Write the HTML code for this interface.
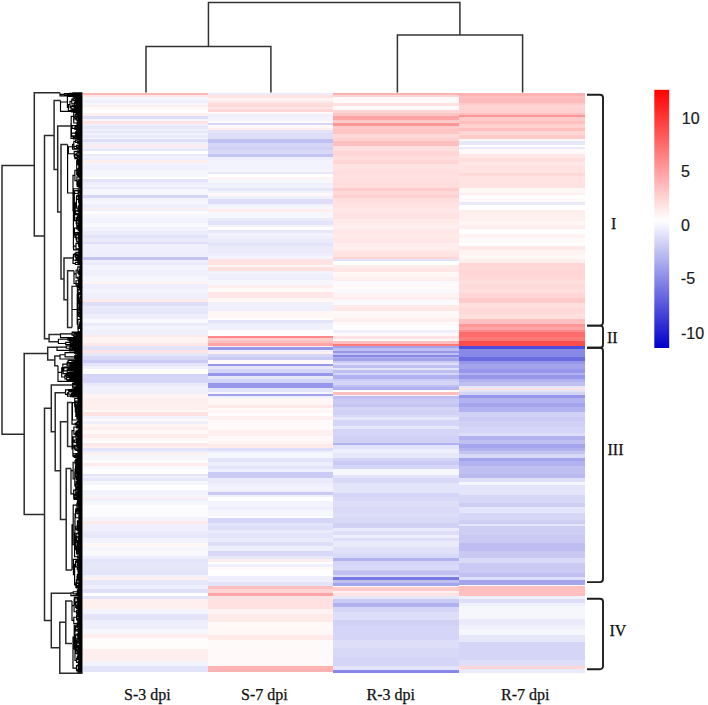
<!DOCTYPE html>
<html><head><meta charset="utf-8"><style>
html,body{margin:0;padding:0;background:#fff;}
body{width:708px;height:705px;overflow:hidden;position:relative;}
svg{position:absolute;left:0;top:0;}
.t{font-family:"Liberation Serif",serif;font-size:16px;fill:#111;stroke:#111;stroke-width:0.25px;}
.s{font-family:"Liberation Sans",sans-serif;font-size:16px;fill:#1a1a1a;stroke:#1a1a1a;stroke-width:0.2px;}
</style></head><body>
<svg width="708" height="705" viewBox="0 0 708 705">
<defs><linearGradient id="cb" x1="0" y1="0" x2="0" y2="1">
<stop offset="0" stop-color="#ff0000"/>
<stop offset="0.505" stop-color="#ffffff"/>
<stop offset="1" stop-color="#0000cc"/>
</linearGradient></defs>
<g shape-rendering="crispEdges">
<rect x="83" y="92.50" width="125.10" height="2.90" fill="#ffb7b7"/>
<rect x="83" y="95.10" width="125.10" height="2.60" fill="#ffe7e7"/>
<rect x="83" y="97.40" width="125.10" height="3.10" fill="#f6f6fd"/>
<rect x="83" y="100.20" width="125.10" height="3.10" fill="#f0f0fc"/>
<rect x="83" y="103.00" width="125.10" height="2.10" fill="#f6f6fd"/>
<rect x="83" y="104.80" width="125.10" height="2.50" fill="#ffeeee"/>
<rect x="83" y="107.00" width="125.10" height="3.20" fill="#fff9f9"/>
<rect x="83" y="109.90" width="125.10" height="3.10" fill="#ffffff"/>
<rect x="83" y="112.70" width="125.10" height="3.10" fill="#fff0f0"/>
<rect x="83" y="115.50" width="125.10" height="3.70" fill="#dedef8"/>
<rect x="83" y="118.90" width="125.10" height="2.00" fill="#f6f6fd"/>
<rect x="83" y="120.60" width="125.10" height="3.70" fill="#ffe3e3"/>
<rect x="83" y="124.00" width="125.10" height="2.60" fill="#eeeefc"/>
<rect x="83" y="126.30" width="125.10" height="3.20" fill="#e7e7fa"/>
<rect x="83" y="129.20" width="125.10" height="2.00" fill="#f0f0fc"/>
<rect x="83" y="130.90" width="125.10" height="2.40" fill="#e7e7fa"/>
<rect x="83" y="133.00" width="125.10" height="2.70" fill="#f3f3fd"/>
<rect x="83" y="135.40" width="125.10" height="2.60" fill="#eaeafb"/>
<rect x="83" y="137.70" width="125.10" height="2.00" fill="#f6f6fd"/>
<rect x="83" y="139.40" width="125.10" height="3.10" fill="#dedef8"/>
<rect x="83" y="142.20" width="125.10" height="2.60" fill="#f0f0fc"/>
<rect x="83" y="144.50" width="125.10" height="2.60" fill="#ffeaea"/>
<rect x="83" y="146.80" width="125.10" height="2.50" fill="#f0f0fc"/>
<rect x="83" y="149.00" width="125.10" height="2.60" fill="#e7e7fa"/>
<rect x="83" y="151.30" width="125.10" height="2.60" fill="#ffffff"/>
<rect x="83" y="153.60" width="125.10" height="2.50" fill="#eaeafb"/>
<rect x="83" y="155.80" width="125.10" height="2.60" fill="#f3f3fd"/>
<rect x="83" y="158.10" width="125.10" height="2.60" fill="#eeeefc"/>
<rect x="83" y="160.40" width="125.10" height="2.50" fill="#ffeeee"/>
<rect x="83" y="162.60" width="125.10" height="2.70" fill="#f3f3fd"/>
<rect x="83" y="165.00" width="125.10" height="5.30" fill="#f0f0fc"/>
<rect x="83" y="170.00" width="125.10" height="7.10" fill="#f6f6fd"/>
<rect x="83" y="176.80" width="125.10" height="2.60" fill="#ffffff"/>
<rect x="83" y="179.10" width="125.10" height="3.10" fill="#e3e3f9"/>
<rect x="83" y="181.90" width="125.10" height="3.20" fill="#eeeefc"/>
<rect x="83" y="184.80" width="125.10" height="2.50" fill="#f3f3fd"/>
<rect x="83" y="187.00" width="125.10" height="2.00" fill="#eaeafb"/>
<rect x="83" y="188.70" width="125.10" height="6.60" fill="#f6f6fd"/>
<rect x="83" y="195.00" width="125.10" height="3.10" fill="#d5d5f7"/>
<rect x="83" y="197.80" width="125.10" height="3.10" fill="#f3f3fd"/>
<rect x="83" y="200.60" width="125.10" height="3.70" fill="#f6f6fd"/>
<rect x="83" y="204.00" width="125.10" height="3.80" fill="#eeeefc"/>
<rect x="83" y="207.50" width="125.10" height="2.00" fill="#ffeeee"/>
<rect x="83" y="209.20" width="125.10" height="2.50" fill="#f0f0fc"/>
<rect x="83" y="211.40" width="125.10" height="3.20" fill="#ffffff"/>
<rect x="83" y="214.30" width="125.10" height="3.70" fill="#f6f6fd"/>
<rect x="83" y="217.70" width="125.10" height="5.90" fill="#f3f3fd"/>
<rect x="83" y="223.30" width="125.10" height="3.80" fill="#f9f9fe"/>
<rect x="83" y="226.80" width="125.10" height="4.80" fill="#f3f3fd"/>
<rect x="83" y="231.30" width="125.10" height="3.70" fill="#ececfb"/>
<rect x="83" y="234.70" width="125.10" height="3.70" fill="#e3e3f9"/>
<rect x="83" y="238.10" width="125.10" height="3.70" fill="#eaeafb"/>
<rect x="83" y="241.50" width="125.10" height="2.60" fill="#dedef8"/>
<rect x="83" y="243.80" width="125.10" height="6.50" fill="#f0f0fc"/>
<rect x="83" y="250.00" width="125.10" height="7.10" fill="#eeeefc"/>
<rect x="83" y="256.80" width="125.10" height="3.10" fill="#c4c4f3"/>
<rect x="83" y="259.60" width="125.10" height="3.20" fill="#eeeefc"/>
<rect x="83" y="262.50" width="125.10" height="2.60" fill="#eaeafb"/>
<rect x="83" y="264.80" width="125.10" height="5.90" fill="#f3f3fd"/>
<rect x="83" y="270.40" width="125.10" height="6.00" fill="#f0f0fc"/>
<rect x="83" y="276.10" width="125.10" height="6.00" fill="#f6f6fd"/>
<rect x="83" y="281.80" width="125.10" height="2.50" fill="#fff3f3"/>
<rect x="83" y="284.00" width="125.10" height="4.90" fill="#eeeefc"/>
<rect x="83" y="288.60" width="125.10" height="4.80" fill="#f3f3fd"/>
<rect x="83" y="293.10" width="125.10" height="6.00" fill="#f0f0fc"/>
<rect x="83" y="298.80" width="125.10" height="3.10" fill="#ffeaea"/>
<rect x="83" y="301.60" width="125.10" height="4.30" fill="#dedef8"/>
<rect x="83" y="305.60" width="125.10" height="3.70" fill="#eaeafb"/>
<rect x="83" y="309.00" width="125.10" height="4.90" fill="#e7e7fa"/>
<rect x="83" y="313.60" width="125.10" height="5.90" fill="#eeeefc"/>
<rect x="83" y="319.20" width="125.10" height="3.70" fill="#f9f9fe"/>
<rect x="83" y="322.60" width="125.10" height="3.70" fill="#eaeafb"/>
<rect x="83" y="326.00" width="125.10" height="4.30" fill="#f3f3fd"/>
<rect x="83" y="330.00" width="125.10" height="4.80" fill="#f0f0fc"/>
<rect x="83" y="334.50" width="125.10" height="2.60" fill="#ffeaea"/>
<rect x="83" y="336.80" width="125.10" height="6.00" fill="#fff3f3"/>
<rect x="83" y="342.50" width="125.10" height="3.80" fill="#ffe7e7"/>
<rect x="83" y="346.00" width="125.10" height="4.70" fill="#e3e3f9"/>
<rect x="83" y="350.40" width="125.10" height="2.60" fill="#ffe3e3"/>
<rect x="83" y="352.70" width="125.10" height="3.70" fill="#e7e7fa"/>
<rect x="83" y="356.10" width="125.10" height="3.70" fill="#d8d8f7"/>
<rect x="83" y="359.50" width="125.10" height="3.80" fill="#cacaf4"/>
<rect x="83" y="363.00" width="125.10" height="3.60" fill="#e3e3f9"/>
<rect x="83" y="366.30" width="125.10" height="2.60" fill="#f0f0fc"/>
<rect x="83" y="368.60" width="125.10" height="6.00" fill="#ffffff"/>
<rect x="83" y="374.30" width="125.10" height="9.30" fill="#d5d5f7"/>
<rect x="83" y="383.30" width="125.10" height="2.60" fill="#eaeafb"/>
<rect x="83" y="385.60" width="125.10" height="8.30" fill="#f0f0fc"/>
<rect x="83" y="393.60" width="125.10" height="4.70" fill="#fff3f3"/>
<rect x="83" y="398.00" width="125.10" height="4.90" fill="#ffeeee"/>
<rect x="83" y="402.60" width="125.10" height="7.70" fill="#fff0f0"/>
<rect x="83" y="410.00" width="125.10" height="2.00" fill="#fff9f9"/>
<rect x="83" y="411.70" width="125.10" height="4.30" fill="#ffe3e3"/>
<rect x="83" y="415.70" width="125.10" height="3.70" fill="#f3f3fd"/>
<rect x="83" y="419.10" width="125.10" height="2.60" fill="#fff9f9"/>
<rect x="83" y="421.40" width="125.10" height="2.50" fill="#f0f0fc"/>
<rect x="83" y="423.60" width="125.10" height="3.70" fill="#fff6f6"/>
<rect x="83" y="427.00" width="125.10" height="3.20" fill="#ffeeee"/>
<rect x="83" y="429.90" width="125.10" height="4.20" fill="#fff9f9"/>
<rect x="83" y="433.80" width="125.10" height="4.30" fill="#ffecec"/>
<rect x="83" y="437.80" width="125.10" height="3.10" fill="#fff6f6"/>
<rect x="83" y="440.60" width="125.10" height="2.60" fill="#ffffff"/>
<rect x="83" y="442.90" width="125.10" height="3.70" fill="#ffe7e7"/>
<rect x="83" y="446.30" width="125.10" height="2.00" fill="#fff0f0"/>
<rect x="83" y="448.00" width="125.10" height="3.20" fill="#e3e3f9"/>
<rect x="83" y="450.90" width="125.10" height="2.50" fill="#eeeefc"/>
<rect x="83" y="453.10" width="125.10" height="2.60" fill="#fff0f0"/>
<rect x="83" y="455.40" width="125.10" height="4.90" fill="#f6f6fd"/>
<rect x="83" y="460.00" width="125.10" height="3.60" fill="#ffffff"/>
<rect x="83" y="463.30" width="125.10" height="2.60" fill="#ffeaea"/>
<rect x="83" y="465.60" width="125.10" height="3.70" fill="#f9f9fe"/>
<rect x="83" y="469.00" width="125.10" height="4.90" fill="#ffffff"/>
<rect x="83" y="473.60" width="125.10" height="2.50" fill="#e3e3f9"/>
<rect x="83" y="475.80" width="125.10" height="2.60" fill="#f0f0fc"/>
<rect x="83" y="478.10" width="125.10" height="3.10" fill="#e7e7fa"/>
<rect x="83" y="480.90" width="125.10" height="4.30" fill="#f6f6fd"/>
<rect x="83" y="484.90" width="125.10" height="5.40" fill="#ffffff"/>
<rect x="83" y="490.00" width="125.10" height="4.80" fill="#f3f3fd"/>
<rect x="83" y="494.50" width="125.10" height="2.60" fill="#f6f6fd"/>
<rect x="83" y="496.80" width="125.10" height="2.00" fill="#ffeeee"/>
<rect x="83" y="498.50" width="125.10" height="3.20" fill="#eeeefc"/>
<rect x="83" y="501.40" width="125.10" height="3.70" fill="#f6f6fd"/>
<rect x="83" y="504.80" width="125.10" height="12.70" fill="#fcfcfe"/>
<rect x="83" y="517.20" width="125.10" height="3.70" fill="#f3f3fd"/>
<rect x="83" y="520.60" width="125.10" height="3.70" fill="#ffeaea"/>
<rect x="83" y="524.00" width="125.10" height="3.80" fill="#eeeefc"/>
<rect x="83" y="527.50" width="125.10" height="3.70" fill="#f0f0fc"/>
<rect x="83" y="530.90" width="125.10" height="3.70" fill="#eaeafb"/>
<rect x="83" y="534.30" width="125.10" height="3.70" fill="#e7e7fa"/>
<rect x="83" y="537.70" width="125.10" height="5.90" fill="#f3f3fd"/>
<rect x="83" y="543.30" width="125.10" height="3.80" fill="#fff6f6"/>
<rect x="83" y="546.80" width="125.10" height="4.80" fill="#f6f6fd"/>
<rect x="83" y="551.30" width="125.10" height="4.80" fill="#f9f9fe"/>
<rect x="83" y="555.80" width="125.10" height="3.70" fill="#eeeefc"/>
<rect x="83" y="559.20" width="125.10" height="3.70" fill="#e3e3f9"/>
<rect x="83" y="562.60" width="125.10" height="7.70" fill="#e7e7fa"/>
<rect x="83" y="570.00" width="125.10" height="5.20" fill="#e3e3f9"/>
<rect x="83" y="574.90" width="125.10" height="2.60" fill="#f0f0fc"/>
<rect x="83" y="577.20" width="125.10" height="2.60" fill="#fff0f0"/>
<rect x="83" y="579.50" width="125.10" height="5.60" fill="#e7e7fa"/>
<rect x="83" y="584.80" width="125.10" height="4.90" fill="#eeeefc"/>
<rect x="83" y="589.40" width="125.10" height="3.40" fill="#dedef8"/>
<rect x="83" y="592.50" width="125.10" height="4.10" fill="#ffffff"/>
<rect x="83" y="596.30" width="125.10" height="2.60" fill="#e3e3f9"/>
<rect x="83" y="598.60" width="125.10" height="11.00" fill="#fff0f0"/>
<rect x="83" y="609.30" width="125.10" height="5.00" fill="#f3f3fd"/>
<rect x="83" y="614.00" width="125.10" height="6.30" fill="#e3e3f9"/>
<rect x="83" y="620.00" width="125.10" height="9.60" fill="#eeeefc"/>
<rect x="83" y="629.30" width="125.10" height="4.80" fill="#f6f6fd"/>
<rect x="83" y="633.80" width="125.10" height="4.90" fill="#ffeeee"/>
<rect x="83" y="638.40" width="125.10" height="11.10" fill="#fffcfc"/>
<rect x="83" y="649.20" width="125.10" height="12.50" fill="#ffeeee"/>
<rect x="83" y="661.40" width="125.10" height="4.90" fill="#f3f3fd"/>
<rect x="83" y="666.00" width="125.10" height="6.40" fill="#e3e3f9"/>
<rect x="83" y="672.10" width="125.10" height="1.20" fill="#ffffff"/>
<rect x="207.8" y="92.50" width="125.50" height="2.90" fill="#eaeafb"/>
<rect x="207.8" y="95.10" width="125.50" height="3.20" fill="#ffe3e3"/>
<rect x="207.8" y="98.00" width="125.50" height="3.10" fill="#fff3f3"/>
<rect x="207.8" y="100.80" width="125.50" height="2.00" fill="#ffe7e7"/>
<rect x="207.8" y="102.50" width="125.50" height="2.60" fill="#ffdede"/>
<rect x="207.8" y="104.80" width="125.50" height="2.50" fill="#ffd8d8"/>
<rect x="207.8" y="107.00" width="125.50" height="2.60" fill="#ffe7e7"/>
<rect x="207.8" y="109.30" width="125.50" height="3.10" fill="#ffd5d5"/>
<rect x="207.8" y="112.10" width="125.50" height="2.60" fill="#fff9f9"/>
<rect x="207.8" y="114.40" width="125.50" height="3.10" fill="#f0f0fc"/>
<rect x="207.8" y="117.20" width="125.50" height="3.70" fill="#f3f3fd"/>
<rect x="207.8" y="120.60" width="125.50" height="2.60" fill="#fff9f9"/>
<rect x="207.8" y="122.90" width="125.50" height="2.60" fill="#d5d5f7"/>
<rect x="207.8" y="125.20" width="125.50" height="2.60" fill="#fff9f9"/>
<rect x="207.8" y="127.50" width="125.50" height="2.50" fill="#ffeeee"/>
<rect x="207.8" y="129.70" width="125.50" height="3.60" fill="#e3e3f9"/>
<rect x="207.8" y="133.00" width="125.50" height="6.10" fill="#dedef8"/>
<rect x="207.8" y="138.80" width="125.50" height="4.80" fill="#bfbff2"/>
<rect x="207.8" y="143.30" width="125.50" height="3.80" fill="#d5d5f7"/>
<rect x="207.8" y="146.80" width="125.50" height="3.70" fill="#d1d1f6"/>
<rect x="207.8" y="150.20" width="125.50" height="3.70" fill="#d8d8f7"/>
<rect x="207.8" y="153.60" width="125.50" height="3.70" fill="#c4c4f3"/>
<rect x="207.8" y="157.00" width="125.50" height="3.70" fill="#eeeefc"/>
<rect x="207.8" y="160.40" width="125.50" height="9.90" fill="#f3f3fd"/>
<rect x="207.8" y="170.00" width="125.50" height="2.00" fill="#f6f6fd"/>
<rect x="207.8" y="171.70" width="125.50" height="2.60" fill="#e7e7fa"/>
<rect x="207.8" y="174.00" width="125.50" height="3.10" fill="#ffffff"/>
<rect x="207.8" y="176.80" width="125.50" height="2.60" fill="#fff3f3"/>
<rect x="207.8" y="179.10" width="125.50" height="3.70" fill="#f6f6fd"/>
<rect x="207.8" y="182.50" width="125.50" height="2.60" fill="#eeeefc"/>
<rect x="207.8" y="184.80" width="125.50" height="3.70" fill="#f3f3fd"/>
<rect x="207.8" y="188.20" width="125.50" height="3.10" fill="#e7e7fa"/>
<rect x="207.8" y="191.00" width="125.50" height="2.60" fill="#f3f3fd"/>
<rect x="207.8" y="193.30" width="125.50" height="2.50" fill="#fff6f6"/>
<rect x="207.8" y="195.50" width="125.50" height="3.80" fill="#f0f0fc"/>
<rect x="207.8" y="199.00" width="125.50" height="5.30" fill="#dedef8"/>
<rect x="207.8" y="204.00" width="125.50" height="2.60" fill="#f0f0fc"/>
<rect x="207.8" y="206.30" width="125.50" height="3.20" fill="#f6f6fd"/>
<rect x="207.8" y="209.20" width="125.50" height="3.10" fill="#ffeeee"/>
<rect x="207.8" y="212.00" width="125.50" height="6.00" fill="#f6f6fd"/>
<rect x="207.8" y="217.70" width="125.50" height="3.60" fill="#eaeafb"/>
<rect x="207.8" y="221.00" width="125.50" height="3.80" fill="#e3e3f9"/>
<rect x="207.8" y="224.50" width="125.50" height="2.60" fill="#f3f3fd"/>
<rect x="207.8" y="226.80" width="125.50" height="3.70" fill="#ffffff"/>
<rect x="207.8" y="230.20" width="125.50" height="3.10" fill="#e7e7fa"/>
<rect x="207.8" y="233.00" width="125.50" height="3.10" fill="#f3f3fd"/>
<rect x="207.8" y="235.80" width="125.50" height="3.70" fill="#eeeefc"/>
<rect x="207.8" y="239.20" width="125.50" height="3.70" fill="#eaeafb"/>
<rect x="207.8" y="242.60" width="125.50" height="3.70" fill="#e3e3f9"/>
<rect x="207.8" y="246.00" width="125.50" height="4.30" fill="#eaeafb"/>
<rect x="207.8" y="250.00" width="125.50" height="3.10" fill="#eaeafb"/>
<rect x="207.8" y="252.80" width="125.50" height="3.20" fill="#eeeefc"/>
<rect x="207.8" y="255.70" width="125.50" height="3.70" fill="#f3f3fd"/>
<rect x="207.8" y="259.10" width="125.50" height="6.00" fill="#ffe3e3"/>
<rect x="207.8" y="264.80" width="125.50" height="2.50" fill="#fff6f6"/>
<rect x="207.8" y="267.00" width="125.50" height="4.30" fill="#ffdede"/>
<rect x="207.8" y="271.00" width="125.50" height="3.10" fill="#f3f3fd"/>
<rect x="207.8" y="273.80" width="125.50" height="6.00" fill="#eeeefc"/>
<rect x="207.8" y="279.50" width="125.50" height="6.00" fill="#f6f6fd"/>
<rect x="207.8" y="285.20" width="125.50" height="2.60" fill="#ffeeee"/>
<rect x="207.8" y="287.50" width="125.50" height="4.80" fill="#fff9f9"/>
<rect x="207.8" y="292.00" width="125.50" height="6.00" fill="#ffe7e7"/>
<rect x="207.8" y="297.70" width="125.50" height="4.80" fill="#fff6f6"/>
<rect x="207.8" y="302.20" width="125.50" height="9.40" fill="#f0f0fc"/>
<rect x="207.8" y="311.30" width="125.50" height="7.10" fill="#fff6f6"/>
<rect x="207.8" y="318.10" width="125.50" height="2.60" fill="#ffffff"/>
<rect x="207.8" y="320.40" width="125.50" height="2.50" fill="#e3e3f9"/>
<rect x="207.8" y="322.60" width="125.50" height="7.70" fill="#f0f0fc"/>
<rect x="207.8" y="330.00" width="125.50" height="6.00" fill="#ffffff"/>
<rect x="207.8" y="335.70" width="125.50" height="2.60" fill="#ff8888"/>
<rect x="207.8" y="338.00" width="125.50" height="3.10" fill="#ffcaca"/>
<rect x="207.8" y="340.80" width="125.50" height="2.00" fill="#ffbfbf"/>
<rect x="207.8" y="342.50" width="125.50" height="3.80" fill="#ffa4a4"/>
<rect x="207.8" y="346.00" width="125.50" height="1.30" fill="#fff0f0"/>
<rect x="207.8" y="347.00" width="125.50" height="3.20" fill="#9696ea"/>
<rect x="207.8" y="349.90" width="125.50" height="2.50" fill="#f0f0fc"/>
<rect x="207.8" y="352.10" width="125.50" height="2.60" fill="#fff0f0"/>
<rect x="207.8" y="354.40" width="125.50" height="2.60" fill="#d5d5f7"/>
<rect x="207.8" y="356.70" width="125.50" height="3.60" fill="#cacaf4"/>
<rect x="207.8" y="360.00" width="125.50" height="3.80" fill="#fff9f9"/>
<rect x="207.8" y="363.50" width="125.50" height="3.10" fill="#9696ea"/>
<rect x="207.8" y="366.30" width="125.50" height="3.20" fill="#e7e7fa"/>
<rect x="207.8" y="369.20" width="125.50" height="4.20" fill="#d5d5f7"/>
<rect x="207.8" y="373.10" width="125.50" height="3.20" fill="#9696ea"/>
<rect x="207.8" y="376.00" width="125.50" height="3.10" fill="#e7e7fa"/>
<rect x="207.8" y="378.80" width="125.50" height="4.80" fill="#d5d5f7"/>
<rect x="207.8" y="383.30" width="125.50" height="4.90" fill="#9696ea"/>
<rect x="207.8" y="387.90" width="125.50" height="4.30" fill="#e3e3f9"/>
<rect x="207.8" y="391.90" width="125.50" height="2.00" fill="#f6f6fd"/>
<rect x="207.8" y="393.60" width="125.50" height="2.50" fill="#a4a4ed"/>
<rect x="207.8" y="395.80" width="125.50" height="2.50" fill="#f0f0fc"/>
<rect x="207.8" y="398.00" width="125.50" height="7.30" fill="#fff6f6"/>
<rect x="207.8" y="405.00" width="125.50" height="3.60" fill="#ffe7e7"/>
<rect x="207.8" y="408.30" width="125.50" height="2.00" fill="#fff9f9"/>
<rect x="207.8" y="410.00" width="125.50" height="3.70" fill="#fff6f6"/>
<rect x="207.8" y="413.40" width="125.50" height="2.60" fill="#ffffff"/>
<rect x="207.8" y="415.70" width="125.50" height="4.80" fill="#fff0f0"/>
<rect x="207.8" y="420.20" width="125.50" height="10.00" fill="#fff9f9"/>
<rect x="207.8" y="429.90" width="125.50" height="6.50" fill="#fff0f0"/>
<rect x="207.8" y="436.10" width="125.50" height="4.80" fill="#fff9f9"/>
<rect x="207.8" y="440.60" width="125.50" height="3.70" fill="#fff3f3"/>
<rect x="207.8" y="444.00" width="125.50" height="3.80" fill="#ffeaea"/>
<rect x="207.8" y="447.50" width="125.50" height="3.70" fill="#dedef8"/>
<rect x="207.8" y="450.90" width="125.50" height="2.50" fill="#f0f0fc"/>
<rect x="207.8" y="453.10" width="125.50" height="4.90" fill="#f6f6fd"/>
<rect x="207.8" y="457.70" width="125.50" height="4.80" fill="#e3e3f9"/>
<rect x="207.8" y="462.20" width="125.50" height="3.70" fill="#eeeefc"/>
<rect x="207.8" y="465.60" width="125.50" height="3.70" fill="#e3e3f9"/>
<rect x="207.8" y="469.00" width="125.50" height="3.70" fill="#eeeefc"/>
<rect x="207.8" y="472.40" width="125.50" height="6.00" fill="#cacaf4"/>
<rect x="207.8" y="478.10" width="125.50" height="4.80" fill="#eaeafb"/>
<rect x="207.8" y="482.60" width="125.50" height="3.70" fill="#eeeefc"/>
<rect x="207.8" y="486.00" width="125.50" height="4.30" fill="#f3f3fd"/>
<rect x="207.8" y="490.00" width="125.50" height="2.00" fill="#eeeefc"/>
<rect x="207.8" y="491.70" width="125.50" height="3.70" fill="#cacaf4"/>
<rect x="207.8" y="495.10" width="125.50" height="2.60" fill="#f0f0fc"/>
<rect x="207.8" y="497.40" width="125.50" height="4.30" fill="#ffffff"/>
<rect x="207.8" y="501.40" width="125.50" height="5.90" fill="#f3f3fd"/>
<rect x="207.8" y="507.00" width="125.50" height="3.70" fill="#eeeefc"/>
<rect x="207.8" y="510.40" width="125.50" height="6.00" fill="#f6f6fd"/>
<rect x="207.8" y="516.10" width="125.50" height="2.60" fill="#ffffff"/>
<rect x="207.8" y="518.40" width="125.50" height="4.80" fill="#d5d5f7"/>
<rect x="207.8" y="522.90" width="125.50" height="3.70" fill="#e3e3f9"/>
<rect x="207.8" y="526.30" width="125.50" height="3.70" fill="#dedef8"/>
<rect x="207.8" y="529.70" width="125.50" height="3.70" fill="#eaeafb"/>
<rect x="207.8" y="533.10" width="125.50" height="4.90" fill="#e3e3f9"/>
<rect x="207.8" y="537.70" width="125.50" height="4.80" fill="#eaeafb"/>
<rect x="207.8" y="542.20" width="125.50" height="3.70" fill="#dedef8"/>
<rect x="207.8" y="545.60" width="125.50" height="6.00" fill="#efeffc"/>
<rect x="207.8" y="551.30" width="125.50" height="4.80" fill="#d8d8f7"/>
<rect x="207.8" y="555.80" width="125.50" height="3.70" fill="#e7e7fa"/>
<rect x="207.8" y="559.20" width="125.50" height="2.60" fill="#ffeeee"/>
<rect x="207.8" y="561.50" width="125.50" height="2.60" fill="#ffffff"/>
<rect x="207.8" y="563.80" width="125.50" height="3.70" fill="#f0f0fc"/>
<rect x="207.8" y="567.20" width="125.50" height="3.10" fill="#fff9f9"/>
<rect x="207.8" y="570.00" width="125.50" height="6.00" fill="#ffffff"/>
<rect x="207.8" y="575.70" width="125.50" height="6.40" fill="#eeeefc"/>
<rect x="207.8" y="581.80" width="125.50" height="4.10" fill="#e3e3f9"/>
<rect x="207.8" y="585.60" width="125.50" height="4.10" fill="#ffbfbf"/>
<rect x="207.8" y="589.40" width="125.50" height="3.40" fill="#ffd5d5"/>
<rect x="207.8" y="592.50" width="125.50" height="4.10" fill="#ffa4a4"/>
<rect x="207.8" y="596.30" width="125.50" height="2.60" fill="#ffe3e3"/>
<rect x="207.8" y="598.60" width="125.50" height="11.00" fill="#ffe1e1"/>
<rect x="207.8" y="609.30" width="125.50" height="5.00" fill="#fff3f3"/>
<rect x="207.8" y="614.00" width="125.50" height="7.90" fill="#ffeaea"/>
<rect x="207.8" y="621.60" width="125.50" height="8.00" fill="#fff9f9"/>
<rect x="207.8" y="629.30" width="125.50" height="6.40" fill="#fff6f6"/>
<rect x="207.8" y="635.40" width="125.50" height="4.90" fill="#ffe9e9"/>
<rect x="207.8" y="640.00" width="125.50" height="14.10" fill="#fffafa"/>
<rect x="207.8" y="653.80" width="125.50" height="12.50" fill="#fff9f9"/>
<rect x="207.8" y="666.00" width="125.50" height="6.40" fill="#ffb2b2"/>
<rect x="207.8" y="672.10" width="125.50" height="1.20" fill="#ffffff"/>
<rect x="333" y="92.50" width="126.60" height="2.90" fill="#ffb2b2"/>
<rect x="333" y="95.10" width="126.60" height="2.60" fill="#ffd5d5"/>
<rect x="333" y="97.40" width="126.60" height="5.40" fill="#fff9f9"/>
<rect x="333" y="102.50" width="126.60" height="3.70" fill="#ffe3e3"/>
<rect x="333" y="105.90" width="126.60" height="4.30" fill="#fff9f9"/>
<rect x="333" y="109.90" width="126.60" height="3.10" fill="#ffd5d5"/>
<rect x="333" y="112.70" width="126.60" height="3.70" fill="#ffc4c4"/>
<rect x="333" y="116.10" width="126.60" height="3.70" fill="#ffa4a4"/>
<rect x="333" y="119.50" width="126.60" height="3.70" fill="#ffcaca"/>
<rect x="333" y="122.90" width="126.60" height="3.70" fill="#ff9696"/>
<rect x="333" y="126.30" width="126.60" height="3.20" fill="#ffcaca"/>
<rect x="333" y="129.20" width="126.60" height="4.80" fill="#ffc4c4"/>
<rect x="333" y="133.70" width="126.60" height="4.30" fill="#ffd8d8"/>
<rect x="333" y="137.70" width="126.60" height="3.10" fill="#ffd1d1"/>
<rect x="333" y="140.50" width="126.60" height="5.40" fill="#ffbfbf"/>
<rect x="333" y="145.60" width="126.60" height="6.00" fill="#ffdede"/>
<rect x="333" y="151.30" width="126.60" height="4.80" fill="#ffd5d5"/>
<rect x="333" y="155.80" width="126.60" height="4.90" fill="#ffdede"/>
<rect x="333" y="160.40" width="126.60" height="3.70" fill="#ffd5d5"/>
<rect x="333" y="163.80" width="126.60" height="6.50" fill="#ffe3e3"/>
<rect x="333" y="170.00" width="126.60" height="4.80" fill="#ffdede"/>
<rect x="333" y="174.50" width="126.60" height="4.90" fill="#ffe1e1"/>
<rect x="333" y="179.10" width="126.60" height="9.40" fill="#ffdede"/>
<rect x="333" y="188.20" width="126.60" height="3.10" fill="#ffcaca"/>
<rect x="333" y="191.00" width="126.60" height="4.30" fill="#ffd8d8"/>
<rect x="333" y="195.00" width="126.60" height="3.70" fill="#ffd1d1"/>
<rect x="333" y="198.40" width="126.60" height="3.70" fill="#ffdede"/>
<rect x="333" y="201.80" width="126.60" height="6.00" fill="#ffe3e3"/>
<rect x="333" y="207.50" width="126.60" height="5.90" fill="#ffe7e7"/>
<rect x="333" y="213.10" width="126.60" height="6.00" fill="#ffe3e3"/>
<rect x="333" y="218.80" width="126.60" height="6.00" fill="#ffeaea"/>
<rect x="333" y="224.50" width="126.60" height="4.80" fill="#ffeeee"/>
<rect x="333" y="229.00" width="126.60" height="4.90" fill="#ffe7e7"/>
<rect x="333" y="233.60" width="126.60" height="4.80" fill="#ffeaea"/>
<rect x="333" y="238.10" width="126.60" height="4.80" fill="#ffe7e7"/>
<rect x="333" y="242.60" width="126.60" height="7.70" fill="#ffecec"/>
<rect x="333" y="250.00" width="126.60" height="3.70" fill="#ffe7e7"/>
<rect x="333" y="253.40" width="126.60" height="3.70" fill="#ffe3e3"/>
<rect x="333" y="256.80" width="126.60" height="2.60" fill="#ffd5d5"/>
<rect x="333" y="259.10" width="126.60" height="2.60" fill="#e3e3f9"/>
<rect x="333" y="261.40" width="126.60" height="3.70" fill="#ffffff"/>
<rect x="333" y="264.80" width="126.60" height="3.70" fill="#ffeaea"/>
<rect x="333" y="268.20" width="126.60" height="3.70" fill="#ffe7e7"/>
<rect x="333" y="271.60" width="126.60" height="5.90" fill="#fff6f6"/>
<rect x="333" y="277.20" width="126.60" height="3.70" fill="#ffeeee"/>
<rect x="333" y="280.60" width="126.60" height="3.70" fill="#f9f9fe"/>
<rect x="333" y="284.00" width="126.60" height="4.90" fill="#fff9f9"/>
<rect x="333" y="288.60" width="126.60" height="4.80" fill="#f9f9fe"/>
<rect x="333" y="293.10" width="126.60" height="3.70" fill="#fff3f3"/>
<rect x="333" y="296.50" width="126.60" height="3.80" fill="#ffeeee"/>
<rect x="333" y="300.00" width="126.60" height="4.80" fill="#f9f9fe"/>
<rect x="333" y="304.50" width="126.60" height="3.70" fill="#ffeaea"/>
<rect x="333" y="307.90" width="126.60" height="3.70" fill="#ffe7e7"/>
<rect x="333" y="311.30" width="126.60" height="3.70" fill="#fff9f9"/>
<rect x="333" y="314.70" width="126.60" height="3.70" fill="#fff6f6"/>
<rect x="333" y="318.10" width="126.60" height="3.70" fill="#ffeeee"/>
<rect x="333" y="321.50" width="126.60" height="3.70" fill="#fff9f9"/>
<rect x="333" y="324.90" width="126.60" height="5.40" fill="#ffffff"/>
<rect x="333" y="330.00" width="126.60" height="3.10" fill="#eeeefc"/>
<rect x="333" y="332.80" width="126.60" height="3.70" fill="#fff9f9"/>
<rect x="333" y="336.20" width="126.60" height="2.60" fill="#ffe3e3"/>
<rect x="333" y="338.50" width="126.60" height="2.60" fill="#fff6f6"/>
<rect x="333" y="340.80" width="126.60" height="3.70" fill="#ffbfbf"/>
<rect x="333" y="344.20" width="126.60" height="2.00" fill="#ff7979"/>
<rect x="333" y="345.90" width="126.60" height="2.60" fill="#a4a4ed"/>
<rect x="333" y="348.20" width="126.60" height="3.10" fill="#bfbff2"/>
<rect x="333" y="351.00" width="126.60" height="2.00" fill="#9696ea"/>
<rect x="333" y="352.70" width="126.60" height="2.60" fill="#bfbff2"/>
<rect x="333" y="355.00" width="126.60" height="2.00" fill="#8888e7"/>
<rect x="333" y="356.70" width="126.60" height="2.00" fill="#b2b2f0"/>
<rect x="333" y="358.40" width="126.60" height="2.50" fill="#a4a4ed"/>
<rect x="333" y="360.60" width="126.60" height="2.60" fill="#cacaf4"/>
<rect x="333" y="362.90" width="126.60" height="2.60" fill="#dedef8"/>
<rect x="333" y="365.20" width="126.60" height="2.60" fill="#bfbff2"/>
<rect x="333" y="367.50" width="126.60" height="3.10" fill="#e3e3f9"/>
<rect x="333" y="370.30" width="126.60" height="3.10" fill="#bfbff2"/>
<rect x="333" y="373.10" width="126.60" height="2.60" fill="#d5d5f7"/>
<rect x="333" y="375.40" width="126.60" height="3.70" fill="#b2b2f0"/>
<rect x="333" y="378.80" width="126.60" height="2.60" fill="#cacaf4"/>
<rect x="333" y="381.10" width="126.60" height="3.70" fill="#d5d5f7"/>
<rect x="333" y="384.50" width="126.60" height="2.60" fill="#bfbff2"/>
<rect x="333" y="386.80" width="126.60" height="3.70" fill="#b2b2f0"/>
<rect x="333" y="390.20" width="126.60" height="2.00" fill="#ffffff"/>
<rect x="333" y="391.90" width="126.60" height="3.10" fill="#ffbfbf"/>
<rect x="333" y="394.70" width="126.60" height="2.00" fill="#f0f0fc"/>
<rect x="333" y="396.40" width="126.60" height="3.10" fill="#bfbff2"/>
<rect x="333" y="399.20" width="126.60" height="4.90" fill="#cacaf4"/>
<rect x="333" y="403.80" width="126.60" height="3.70" fill="#c4c4f3"/>
<rect x="333" y="407.20" width="126.60" height="3.10" fill="#d5d5f7"/>
<rect x="333" y="410.00" width="126.60" height="4.80" fill="#d1d1f6"/>
<rect x="333" y="414.50" width="126.60" height="2.60" fill="#d8d8f7"/>
<rect x="333" y="416.80" width="126.60" height="3.70" fill="#e7e7fa"/>
<rect x="333" y="420.20" width="126.60" height="6.00" fill="#d5d5f7"/>
<rect x="333" y="425.90" width="126.60" height="3.70" fill="#e7e7fa"/>
<rect x="333" y="429.30" width="126.60" height="7.10" fill="#d5d5f7"/>
<rect x="333" y="436.10" width="126.60" height="7.10" fill="#d1d1f6"/>
<rect x="333" y="442.90" width="126.60" height="2.60" fill="#b2b2f0"/>
<rect x="333" y="445.20" width="126.60" height="3.70" fill="#e3e3f9"/>
<rect x="333" y="448.60" width="126.60" height="4.80" fill="#eeeefc"/>
<rect x="333" y="453.10" width="126.60" height="4.90" fill="#e7e7fa"/>
<rect x="333" y="457.70" width="126.60" height="3.70" fill="#d5d5f7"/>
<rect x="333" y="461.10" width="126.60" height="3.70" fill="#cacaf4"/>
<rect x="333" y="464.50" width="126.60" height="4.80" fill="#d5d5f7"/>
<rect x="333" y="469.00" width="126.60" height="6.00" fill="#f6f6fd"/>
<rect x="333" y="474.70" width="126.60" height="3.70" fill="#e3e3f9"/>
<rect x="333" y="478.10" width="126.60" height="4.80" fill="#d8d8f7"/>
<rect x="333" y="482.60" width="126.60" height="7.70" fill="#e3e3f9"/>
<rect x="333" y="490.00" width="126.60" height="3.70" fill="#e3e3f9"/>
<rect x="333" y="493.40" width="126.60" height="3.70" fill="#d5d5f7"/>
<rect x="333" y="496.80" width="126.60" height="4.90" fill="#dadaf8"/>
<rect x="333" y="501.40" width="126.60" height="5.90" fill="#dedef8"/>
<rect x="333" y="507.00" width="126.60" height="6.00" fill="#dadaf8"/>
<rect x="333" y="512.70" width="126.60" height="4.80" fill="#dedef8"/>
<rect x="333" y="517.20" width="126.60" height="6.00" fill="#d8d8f7"/>
<rect x="333" y="522.90" width="126.60" height="4.90" fill="#d1d1f6"/>
<rect x="333" y="527.50" width="126.60" height="3.70" fill="#eaeafb"/>
<rect x="333" y="530.90" width="126.60" height="4.80" fill="#dedef8"/>
<rect x="333" y="535.40" width="126.60" height="2.60" fill="#eeeefc"/>
<rect x="333" y="537.70" width="126.60" height="3.70" fill="#dedef8"/>
<rect x="333" y="541.10" width="126.60" height="6.00" fill="#eaeafb"/>
<rect x="333" y="546.80" width="126.60" height="7.10" fill="#e0e0f9"/>
<rect x="333" y="553.60" width="126.60" height="4.20" fill="#d8d8f7"/>
<rect x="333" y="557.50" width="126.60" height="3.70" fill="#b2b2f0"/>
<rect x="333" y="560.90" width="126.60" height="4.30" fill="#d5d5f7"/>
<rect x="333" y="564.90" width="126.60" height="5.40" fill="#d8d8f7"/>
<rect x="333" y="570.00" width="126.60" height="1.40" fill="#cacaf4"/>
<rect x="333" y="571.10" width="126.60" height="4.10" fill="#bfbff2"/>
<rect x="333" y="574.90" width="126.60" height="2.60" fill="#dedef8"/>
<rect x="333" y="577.20" width="126.60" height="3.40" fill="#7979e4"/>
<rect x="333" y="580.30" width="126.60" height="2.50" fill="#bfbff2"/>
<rect x="333" y="582.50" width="126.60" height="3.40" fill="#a4a4ed"/>
<rect x="333" y="585.60" width="126.60" height="1.80" fill="#ffffff"/>
<rect x="333" y="587.10" width="126.60" height="4.20" fill="#ffcaca"/>
<rect x="333" y="591.00" width="126.60" height="2.60" fill="#fff0f0"/>
<rect x="333" y="593.30" width="126.60" height="3.30" fill="#ffe3e3"/>
<rect x="333" y="596.30" width="126.60" height="2.60" fill="#e7e7fa"/>
<rect x="333" y="598.60" width="126.60" height="4.90" fill="#cacaf4"/>
<rect x="333" y="603.20" width="126.60" height="4.10" fill="#b2b2f0"/>
<rect x="333" y="607.00" width="126.60" height="5.70" fill="#d5d5f7"/>
<rect x="333" y="612.40" width="126.60" height="8.00" fill="#dedef8"/>
<rect x="333" y="620.10" width="126.60" height="6.40" fill="#d1d1f6"/>
<rect x="333" y="626.20" width="126.60" height="14.10" fill="#d5d5f7"/>
<rect x="333" y="640.00" width="126.60" height="7.90" fill="#dedef8"/>
<rect x="333" y="647.60" width="126.60" height="9.50" fill="#d8d8f7"/>
<rect x="333" y="656.80" width="126.60" height="9.50" fill="#d5d5f7"/>
<rect x="333" y="666.00" width="126.60" height="4.10" fill="#e3e3f9"/>
<rect x="333" y="669.80" width="126.60" height="3.50" fill="#8888e7"/>
<rect x="459.3" y="92.50" width="125.40" height="3.50" fill="#ffb2b2"/>
<rect x="459.3" y="95.70" width="125.40" height="3.70" fill="#ffbfbf"/>
<rect x="459.3" y="99.10" width="125.40" height="3.70" fill="#ffbaba"/>
<rect x="459.3" y="102.50" width="125.40" height="3.10" fill="#ffcaca"/>
<rect x="459.3" y="105.30" width="125.40" height="3.20" fill="#ffd5d5"/>
<rect x="459.3" y="108.20" width="125.40" height="4.80" fill="#ffd1d1"/>
<rect x="459.3" y="112.70" width="125.40" height="2.60" fill="#ffbfbf"/>
<rect x="459.3" y="115.00" width="125.40" height="2.50" fill="#ff9696"/>
<rect x="459.3" y="117.20" width="125.40" height="3.70" fill="#ffcaca"/>
<rect x="459.3" y="120.60" width="125.40" height="3.70" fill="#ffbfbf"/>
<rect x="459.3" y="124.00" width="125.40" height="3.80" fill="#ffd1d1"/>
<rect x="459.3" y="127.50" width="125.40" height="3.70" fill="#ffbfbf"/>
<rect x="459.3" y="130.90" width="125.40" height="4.80" fill="#ffd5d5"/>
<rect x="459.3" y="135.40" width="125.40" height="3.70" fill="#ffcaca"/>
<rect x="459.3" y="138.80" width="125.40" height="2.60" fill="#fff6f6"/>
<rect x="459.3" y="141.10" width="125.40" height="3.70" fill="#e7e7fa"/>
<rect x="459.3" y="144.50" width="125.40" height="2.60" fill="#ffffff"/>
<rect x="459.3" y="146.80" width="125.40" height="2.50" fill="#eaeafb"/>
<rect x="459.3" y="149.00" width="125.40" height="4.90" fill="#fff9f9"/>
<rect x="459.3" y="153.60" width="125.40" height="4.80" fill="#ffe7e7"/>
<rect x="459.3" y="158.10" width="125.40" height="3.70" fill="#ffdede"/>
<rect x="459.3" y="161.50" width="125.40" height="3.70" fill="#ffe7e7"/>
<rect x="459.3" y="164.90" width="125.40" height="5.40" fill="#ffe3e3"/>
<rect x="459.3" y="170.00" width="125.40" height="3.70" fill="#ffe3e3"/>
<rect x="459.3" y="173.40" width="125.40" height="2.60" fill="#ffd8d8"/>
<rect x="459.3" y="175.70" width="125.40" height="12.80" fill="#ffe3e3"/>
<rect x="459.3" y="188.20" width="125.40" height="4.80" fill="#fff6f6"/>
<rect x="459.3" y="192.70" width="125.40" height="2.60" fill="#ffeeee"/>
<rect x="459.3" y="195.00" width="125.40" height="3.70" fill="#ffffff"/>
<rect x="459.3" y="198.40" width="125.40" height="3.70" fill="#fff9f9"/>
<rect x="459.3" y="201.80" width="125.40" height="3.70" fill="#eaeafb"/>
<rect x="459.3" y="205.20" width="125.40" height="4.80" fill="#ffffff"/>
<rect x="459.3" y="209.70" width="125.40" height="6.00" fill="#ffeeee"/>
<rect x="459.3" y="215.40" width="125.40" height="6.00" fill="#fff0f0"/>
<rect x="459.3" y="221.10" width="125.40" height="3.70" fill="#fff6f6"/>
<rect x="459.3" y="224.50" width="125.40" height="4.80" fill="#ffeeee"/>
<rect x="459.3" y="229.00" width="125.40" height="4.90" fill="#ffffff"/>
<rect x="459.3" y="233.60" width="125.40" height="4.80" fill="#fff3f3"/>
<rect x="459.3" y="238.10" width="125.40" height="4.80" fill="#fff9f9"/>
<rect x="459.3" y="242.60" width="125.40" height="3.70" fill="#ffffff"/>
<rect x="459.3" y="246.00" width="125.40" height="4.30" fill="#ffe7e7"/>
<rect x="459.3" y="250.00" width="125.40" height="4.80" fill="#fff3f3"/>
<rect x="459.3" y="254.50" width="125.40" height="4.90" fill="#fff6f6"/>
<rect x="459.3" y="259.10" width="125.40" height="3.70" fill="#ffeeee"/>
<rect x="459.3" y="262.50" width="125.40" height="3.70" fill="#ffd5d5"/>
<rect x="459.3" y="265.90" width="125.40" height="4.80" fill="#ffd8d8"/>
<rect x="459.3" y="270.40" width="125.40" height="4.90" fill="#ffd5d5"/>
<rect x="459.3" y="275.00" width="125.40" height="4.80" fill="#ffd8d8"/>
<rect x="459.3" y="279.50" width="125.40" height="4.80" fill="#ffdede"/>
<rect x="459.3" y="284.00" width="125.40" height="4.90" fill="#ffdada"/>
<rect x="459.3" y="288.60" width="125.40" height="4.80" fill="#ffdede"/>
<rect x="459.3" y="293.10" width="125.40" height="4.90" fill="#ffd5d5"/>
<rect x="459.3" y="297.70" width="125.40" height="5.90" fill="#ffcaca"/>
<rect x="459.3" y="303.30" width="125.40" height="4.90" fill="#ffdede"/>
<rect x="459.3" y="307.90" width="125.40" height="6.00" fill="#ffd8d8"/>
<rect x="459.3" y="313.60" width="125.40" height="5.90" fill="#ffdede"/>
<rect x="459.3" y="319.20" width="125.40" height="4.90" fill="#ffbfbf"/>
<rect x="459.3" y="323.80" width="125.40" height="3.70" fill="#ff9696"/>
<rect x="459.3" y="327.20" width="125.40" height="3.10" fill="#ffa4a4"/>
<rect x="459.3" y="330.00" width="125.40" height="2.60" fill="#ff8888"/>
<rect x="459.3" y="332.30" width="125.40" height="4.80" fill="#ff6a6a"/>
<rect x="459.3" y="336.80" width="125.40" height="4.90" fill="#ff7979"/>
<rect x="459.3" y="341.40" width="125.40" height="4.80" fill="#ff4d4d"/>
<rect x="459.3" y="345.90" width="125.40" height="3.70" fill="#4d4ddb"/>
<rect x="459.3" y="349.30" width="125.40" height="8.20" fill="#8888e7"/>
<rect x="459.3" y="357.20" width="125.40" height="3.70" fill="#6a6ae1"/>
<rect x="459.3" y="360.60" width="125.40" height="3.70" fill="#9696ea"/>
<rect x="459.3" y="364.00" width="125.40" height="4.90" fill="#a4a4ed"/>
<rect x="459.3" y="368.60" width="125.40" height="4.80" fill="#9696ea"/>
<rect x="459.3" y="373.10" width="125.40" height="2.60" fill="#b2b2f0"/>
<rect x="459.3" y="375.40" width="125.40" height="3.70" fill="#9696ea"/>
<rect x="459.3" y="378.80" width="125.40" height="3.70" fill="#b2b2f0"/>
<rect x="459.3" y="382.20" width="125.40" height="3.70" fill="#bfbff2"/>
<rect x="459.3" y="385.60" width="125.40" height="2.60" fill="#e7e7fa"/>
<rect x="459.3" y="387.90" width="125.40" height="2.00" fill="#ffe3e3"/>
<rect x="459.3" y="389.60" width="125.40" height="3.10" fill="#e3e3f9"/>
<rect x="459.3" y="392.40" width="125.40" height="2.60" fill="#d5d5f7"/>
<rect x="459.3" y="394.70" width="125.40" height="3.70" fill="#9696ea"/>
<rect x="459.3" y="398.10" width="125.40" height="4.80" fill="#b2b2f0"/>
<rect x="459.3" y="402.60" width="125.40" height="4.90" fill="#a4a4ed"/>
<rect x="459.3" y="407.20" width="125.40" height="3.10" fill="#b2b2f0"/>
<rect x="459.3" y="410.00" width="125.40" height="2.60" fill="#b2b2f0"/>
<rect x="459.3" y="412.30" width="125.40" height="4.80" fill="#d1d1f6"/>
<rect x="459.3" y="416.80" width="125.40" height="4.90" fill="#cacaf4"/>
<rect x="459.3" y="421.40" width="125.40" height="5.90" fill="#d1d1f6"/>
<rect x="459.3" y="427.00" width="125.40" height="6.00" fill="#d5d5f7"/>
<rect x="459.3" y="432.70" width="125.40" height="3.10" fill="#dedef8"/>
<rect x="459.3" y="435.50" width="125.40" height="4.30" fill="#b2b2f0"/>
<rect x="459.3" y="439.50" width="125.40" height="4.80" fill="#bfbff2"/>
<rect x="459.3" y="444.00" width="125.40" height="3.80" fill="#a4a4ed"/>
<rect x="459.3" y="447.50" width="125.40" height="3.70" fill="#b2b2f0"/>
<rect x="459.3" y="450.90" width="125.40" height="3.70" fill="#c4c4f3"/>
<rect x="459.3" y="454.30" width="125.40" height="3.70" fill="#d8d8f7"/>
<rect x="459.3" y="457.70" width="125.40" height="3.70" fill="#a4a4ed"/>
<rect x="459.3" y="461.10" width="125.40" height="4.80" fill="#b2b2f0"/>
<rect x="459.3" y="465.60" width="125.40" height="8.30" fill="#bfbff2"/>
<rect x="459.3" y="473.60" width="125.40" height="4.80" fill="#babaf1"/>
<rect x="459.3" y="478.10" width="125.40" height="3.70" fill="#dedef8"/>
<rect x="459.3" y="481.50" width="125.40" height="3.70" fill="#f6f6fd"/>
<rect x="459.3" y="484.90" width="125.40" height="5.40" fill="#e3e3f9"/>
<rect x="459.3" y="490.00" width="125.40" height="4.80" fill="#e4e4fa"/>
<rect x="459.3" y="494.50" width="125.40" height="8.30" fill="#d6d6f7"/>
<rect x="459.3" y="502.50" width="125.40" height="4.80" fill="#cecef5"/>
<rect x="459.3" y="507.00" width="125.40" height="6.00" fill="#e4e4fa"/>
<rect x="459.3" y="512.70" width="125.40" height="7.10" fill="#d6d6f7"/>
<rect x="459.3" y="519.50" width="125.40" height="4.80" fill="#cecef5"/>
<rect x="459.3" y="524.00" width="125.40" height="2.60" fill="#e4e4fa"/>
<rect x="459.3" y="526.30" width="125.40" height="9.40" fill="#cecef5"/>
<rect x="459.3" y="535.40" width="125.40" height="8.20" fill="#c9c9f4"/>
<rect x="459.3" y="543.30" width="125.40" height="8.30" fill="#bdbdf2"/>
<rect x="459.3" y="551.30" width="125.40" height="7.10" fill="#c9c9f4"/>
<rect x="459.3" y="558.10" width="125.40" height="4.80" fill="#dadaf8"/>
<rect x="459.3" y="562.60" width="125.40" height="7.70" fill="#c9c9f4"/>
<rect x="459.3" y="570.00" width="125.40" height="2.90" fill="#cacaf4"/>
<rect x="459.3" y="572.60" width="125.40" height="4.90" fill="#bfbff2"/>
<rect x="459.3" y="577.20" width="125.40" height="3.40" fill="#dedef8"/>
<rect x="459.3" y="580.30" width="125.40" height="4.80" fill="#a4a4ed"/>
<rect x="459.3" y="584.80" width="125.40" height="1.90" fill="#ffffff"/>
<rect x="459.3" y="586.40" width="125.40" height="10.20" fill="#ffbfbf"/>
<rect x="459.3" y="596.30" width="125.40" height="2.60" fill="#f0f0fc"/>
<rect x="459.3" y="598.60" width="125.40" height="4.90" fill="#dedef8"/>
<rect x="459.3" y="603.20" width="125.40" height="3.40" fill="#f0f0fc"/>
<rect x="459.3" y="606.30" width="125.40" height="12.50" fill="#f6f6fd"/>
<rect x="459.3" y="618.50" width="125.40" height="6.50" fill="#eaeafb"/>
<rect x="459.3" y="624.70" width="125.40" height="4.90" fill="#f0f0fc"/>
<rect x="459.3" y="629.30" width="125.40" height="6.40" fill="#f6f6fd"/>
<rect x="459.3" y="635.40" width="125.40" height="6.40" fill="#e7e7fa"/>
<rect x="459.3" y="641.50" width="125.40" height="18.70" fill="#d5d5f7"/>
<rect x="459.3" y="659.90" width="125.40" height="6.40" fill="#dedef8"/>
<rect x="459.3" y="666.00" width="125.40" height="3.40" fill="#ffd5d5"/>
<rect x="459.3" y="669.10" width="125.40" height="4.20" fill="#eaeafb"/>
</g>
<path d="M82.5 93.0H76.6V93.3H82.5M82.5 92.7H75.0V93.1H76.6M75.0 92.9H72.9V93.6H82.5M72.9 93.3H69.5V93.9H82.5M82.5 94.9H74.9V95.2H82.5M82.5 94.6H74.1V95.0H74.9M82.5 94.2H71.2V94.8H74.1M71.2 94.5H67.4V95.5H82.5M69.5 93.6H64.5V95.0H67.4M64.5 94.3H60.0V95.8H82.5M60.0 92.8V95.1M82.5 96.5H78.3V96.8H82.5M78.3 96.6H77.7V97.1H82.5M82.5 96.2H74.2V96.8H77.7M82.5 97.7H79.1V98.0H82.5M82.5 98.3H78.1V98.6H82.5M78.1 98.4H77.0V98.9H82.5M82.5 99.2H77.2V99.5H82.5M77.0 98.6H76.6V99.3H77.2M79.1 97.8H75.4V99.0H76.6M82.5 97.4H74.4V98.4H75.4M82.5 100.1H76.9V100.4H82.5M82.5 99.8H75.3V100.2H76.9M75.3 100.0H73.6V100.7H82.5M74.4 97.9H73.1V100.3H73.6M82.5 101.0H79.0V101.3H82.5M82.5 101.6H77.8V101.9H82.5M79.0 101.1H75.9V101.7H77.8M82.5 102.2H78.4V102.5H82.5M75.9 101.4H75.7V102.3H78.4M82.5 103.4H77.9V103.7H82.5M82.5 104.3H78.5V104.6H82.5M82.5 104.0H78.0V104.5H78.5M77.9 103.5H76.3V104.2H78.0M82.5 103.1H76.1V103.9H76.3M82.5 102.8H75.3V103.5H76.1M75.7 101.9H75.1V103.1H75.3M82.5 104.9H78.0V105.2H82.5M75.1 102.5H74.4V105.1H78.0M73.1 99.1H71.8V103.8H74.4M82.5 105.8H79.5V106.1H82.5M82.5 106.4H78.0V106.7H82.5M78.0 106.6H75.0V107.0H82.5M82.5 107.3H79.5V107.6H82.5M82.5 107.9H75.9V108.2H82.5M79.5 107.5H75.9V108.1H75.9M75.0 106.8H75.0V107.8H75.9M79.5 106.0H74.2V107.3H75.0M82.5 105.5H72.3V106.6H74.2M82.5 108.5H78.2V108.8H82.5M82.5 109.1H78.0V109.4H82.5M82.5 109.7H77.5V110.0H82.5M78.0 109.3H76.2V109.9H77.5M78.2 108.7H72.2V109.6H76.2M72.3 106.1H71.1V109.1H72.2M71.8 101.4H70.0V107.6H71.1M82.5 110.3H73.0V110.6H82.5M70.0 104.5H68.4V110.5H73.0M74.2 96.5H67.4V107.5H68.4M82.5 110.9H72.7V111.2H82.5M82.5 111.5H71.7V111.8H82.5M72.7 111.1H71.7V111.7H71.7M67.4 102.0H60.5V111.4H71.7M60.5 100.6V106.7M82.5 112.2H78.9V112.5H82.5M78.9 112.3H77.9V112.8H82.5M82.5 113.1H78.5V113.4H82.5M82.5 113.7H77.8V114.0H82.5M78.5 113.2H77.3V113.8H77.8M82.5 114.3H78.4V114.6H82.5M78.4 114.4H78.0V114.9H82.5M82.5 115.5H79.3V115.8H82.5M82.5 115.2H77.5V115.6H79.3M78.0 114.6H77.2V115.4H77.5M77.3 113.5H76.2V115.0H77.2M82.5 116.1H79.8V116.4H82.5M82.5 116.7H79.8V117.0H82.5M79.8 116.2H79.7V116.8H79.8M76.2 114.3H75.3V116.5H79.7M82.5 117.9H79.6V118.2H82.5M82.5 117.6H79.4V118.0H79.6M82.5 117.3H78.4V117.8H79.4M82.5 118.8H79.8V119.1H82.5M82.5 118.5H79.5V118.9H79.8M78.4 117.5H76.7V118.7H79.5M82.5 119.4H79.7V119.7H82.5M79.7 119.5H78.4V120.0H82.5M82.5 120.3H78.6V120.6H82.5M78.6 120.4H77.8V120.9H82.5M78.4 119.8H77.7V120.7H77.8M76.7 118.1H76.2V120.2H77.7M75.3 115.4H75.1V119.2H76.2M82.5 121.8H80.4V122.1H82.5M82.5 121.5H79.8V121.9H80.4M82.5 121.2H78.7V121.7H79.8M82.5 122.4H78.4V122.7H82.5M78.7 121.4H78.1V122.5H78.4M82.5 123.6H79.0V123.9H82.5M79.0 123.7H78.7V124.2H82.5M82.5 123.3H78.6V124.0H78.7M82.5 123.0H78.6V123.6H78.6M82.5 124.5H78.5V124.8H82.5M78.5 124.6H77.5V125.1H82.5M78.6 123.3H77.4V124.9H77.5M78.1 122.0H77.1V124.1H77.4M75.1 117.3H73.8V123.0H77.1M77.9 112.5H73.7V120.2H73.8M82.5 125.7H80.1V126.0H82.5M82.5 125.4H76.6V125.8H80.1M82.5 126.6H79.4V126.9H82.5M82.5 126.3H76.9V126.8H79.4M82.5 128.1H79.4V128.4H82.5M82.5 127.8H78.9V128.3H79.4M82.5 127.5H78.9V128.0H78.9M82.5 127.2H77.7V127.8H78.9M77.7 127.5H77.6V128.7H82.5M76.9 126.5H75.3V128.1H77.6M82.5 129.0H78.4V129.3H82.5M78.4 129.2H76.7V129.6H82.5M75.3 127.3H74.8V129.4H76.7M76.6 125.6H72.1V128.3H74.8M82.5 129.9H79.7V130.2H82.5M82.5 130.8H79.5V131.1H82.5M79.5 131.0H79.5V131.4H82.5M82.5 130.5H78.3V131.2H79.5M78.3 130.9H77.7V131.7H82.5M79.7 130.1H77.1V131.3H77.7M82.5 132.0H78.7V132.3H82.5M78.7 132.2H77.6V132.6H82.5M77.1 130.7H76.7V132.4H77.6M82.5 132.9H77.0V133.2H82.5M76.7 131.5H75.9V133.1H77.0M82.5 133.5H76.6V133.8H82.5M76.6 133.7H76.5V134.1H82.5M75.9 132.3H75.4V133.9H76.5M82.5 134.7H77.4V135.0H82.5M82.5 134.4H76.2V134.9H77.4M82.5 135.3H79.3V135.6H82.5M79.3 135.5H78.4V135.9H82.5M76.2 134.7H75.9V135.7H78.4M82.5 136.2H76.1V136.5H82.5M75.9 135.2H75.7V136.4H76.1M82.5 137.1H80.0V137.4H82.5M82.5 136.8H77.7V137.3H80.0M75.7 135.8H72.9V137.1H77.7M75.4 133.1H71.6V136.4H72.9M72.1 127.0H71.4V134.8H71.6M73.7 116.3H71.2V130.9H71.4M82.5 138.0H79.5V138.3H82.5M82.5 137.7H74.7V138.2H79.5M82.5 138.9H80.4V139.2H82.5M82.5 139.5H78.7V139.8H82.5M80.4 139.1H78.5V139.7H78.7M82.5 138.6H77.6V139.4H78.5M74.7 138.0H73.6V139.0H77.6M71.2 123.6H71.0V138.5H73.6M71.0 126.1V131.1M82.5 140.5H81.0V140.8H82.5M82.5 141.7H81.1V142.0H82.5M82.5 141.4H80.6V141.8H81.1M82.5 141.1H80.4V141.6H80.6M81.0 140.6H80.4V141.3H80.4M80.4 141.0H79.7V142.3H82.5M82.5 143.2H81.3V143.5H82.5M82.5 142.9H81.2V143.3H81.3M82.5 143.8H80.9V144.1H82.5M82.5 144.4H81.7V144.7H82.5M80.9 143.9H80.9V144.5H81.7M81.2 143.1H79.8V144.2H80.9M82.5 142.6H78.8V143.6H79.8M79.7 141.6H77.6V143.1H78.8M82.5 140.2H75.6V142.4H77.6M82.5 145.3H81.2V145.6H82.5M81.2 145.4H78.1V145.9H82.5M82.5 145.0H78.0V145.6H78.1M82.5 146.2H82.0V146.5H82.5M82.0 146.3H80.8V146.8H82.5M80.8 146.5H80.6V147.1H82.5M82.5 147.7H80.4V148.0H82.5M82.5 147.4H80.2V147.8H80.4M80.2 147.6H80.1V148.3H82.5M80.6 146.8H78.8V147.9H80.1M78.0 145.3H76.6V147.4H78.8M76.6 146.3H74.3V148.6H82.5M75.6 141.3H73.8V147.4H74.3M82.5 149.2H81.2V149.5H82.5M82.5 148.9H80.8V149.3H81.2M73.8 144.3H72.5V149.1H80.8M82.5 149.8H81.2V150.1H82.5M81.2 149.9H80.8V150.4H82.5M80.8 150.1H80.0V150.7H82.5M80.0 150.4H79.1V151.0H82.5M82.5 151.6H81.1V151.9H82.5M82.5 151.3H79.3V151.7H81.1M82.5 152.2H79.6V152.5H82.5M79.3 151.5H79.1V152.3H79.6M79.1 150.7H77.7V151.9H79.1M82.5 153.1H81.5V153.4H82.5M81.5 153.2H81.3V153.7H82.5M82.5 152.8H80.1V153.4H81.3M82.5 154.3H81.9V154.6H82.5M81.9 154.4H80.8V154.9H82.5M82.5 154.0H80.8V154.7H80.8M80.8 154.3H80.0V155.2H82.5M82.5 155.5H81.2V155.8H82.5M81.2 155.6H78.7V156.1H82.5M82.5 156.4H80.9V156.7H82.5M80.9 156.5H80.3V157.0H82.5M78.7 155.9H78.4V156.8H80.3M80.0 154.7H77.2V156.3H78.4M80.1 153.1H76.2V155.5H77.2M82.5 157.9H79.5V158.2H82.5M82.5 157.6H78.2V158.0H79.5M82.5 158.5H80.3V158.8H82.5M82.5 159.1H81.1V159.4H82.5M80.3 158.6H80.2V159.2H81.1M82.5 159.7H80.2V160.0H82.5M80.2 158.9H80.0V159.8H80.2M78.2 157.8H77.4V159.4H80.0M82.5 157.3H75.0V158.6H77.4M76.2 154.3H74.7V157.9H75.0M77.7 151.3H74.2V156.1H74.7M72.5 146.7H68.4V153.7H74.2M82.5 160.3H80.3V160.6H82.5M80.3 160.4H76.9V160.9H82.5M82.5 161.2H80.3V161.5H82.5M82.5 161.8H81.9V162.1H82.5M81.9 161.9H79.9V162.4H82.5M82.5 162.7H82.0V163.0H82.5M82.0 162.8H81.3V163.3H82.5M79.9 162.2H78.2V163.1H81.3M82.5 163.9H81.3V164.2H82.5M82.5 164.5H80.8V164.8H82.5M81.3 164.0H80.6V164.6H80.8M82.5 163.6H80.4V164.3H80.6M82.5 165.7H80.9V166.0H82.5M82.5 165.4H80.5V165.8H80.9M80.5 165.6H80.1V166.3H82.5M82.5 165.1H79.2V166.0H80.1M80.4 164.0H78.6V165.5H79.2M78.2 162.6H77.6V164.7H78.6M80.3 161.3H77.2V163.7H77.6M76.9 160.7H76.7V162.5H77.2M82.5 166.6H79.4V166.9H82.5M82.5 167.5H81.4V167.8H82.5M81.4 167.7H81.0V168.1H82.5M82.5 167.2H80.3V167.9H81.0M79.4 166.7H78.8V167.5H80.3M82.5 169.0H81.6V169.3H82.5M82.5 168.7H81.1V169.2H81.6M82.5 168.4H79.9V168.9H81.1M82.5 169.9H80.5V170.2H82.5M82.5 169.6H80.5V170.1H80.5M80.5 169.8H80.5V170.5H82.5M79.9 168.7H79.9V170.2H80.5M79.9 169.4H79.5V170.8H82.5M79.5 170.1H79.5V171.1H82.5M78.8 167.1H78.7V170.6H79.5M82.5 171.4H78.0V171.7H82.5M78.7 168.9H77.9V171.6H78.0M76.7 161.6H76.7V170.2H77.9M82.5 172.3H80.5V172.6H82.5M80.5 172.5H80.1V172.9H82.5M82.5 173.2H80.5V173.5H82.5M80.1 172.7H79.1V173.4H80.5M79.1 173.0H79.0V173.8H82.5M82.5 172.0H78.4V173.4H79.0M82.5 174.4H81.7V174.7H82.5M82.5 174.1H81.0V174.6H81.7M78.4 172.7H77.3V174.3H81.0M82.5 175.0H80.0V175.3H82.5M82.5 175.6H81.5V175.9H82.5M80.0 175.2H78.6V175.8H81.5M77.3 173.5H77.2V175.5H78.6M76.7 165.9H76.7V174.5H77.2M82.5 176.8H80.5V177.1H82.5M82.5 176.5H80.2V177.0H80.5M82.5 178.0H81.3V178.3H82.5M82.5 177.7H80.5V178.2H81.3M82.5 177.4H80.3V177.9H80.5M80.2 176.7H79.9V177.7H80.3M82.5 176.2H78.5V177.2H79.9M82.5 178.6H80.1V178.9H82.5M80.1 178.8H79.9V179.2H82.5M82.5 179.5H82.0V179.8H82.5M79.9 179.0H79.9V179.7H82.0M82.5 180.1H80.5V180.4H82.5M80.5 180.3H80.5V180.7H82.5M82.5 181.0H81.2V181.3H82.5M80.5 180.5H79.9V181.2H81.2M79.9 179.3H79.0V180.8H79.9M82.5 181.9H81.1V182.2H82.5M81.1 182.1H81.1V182.5H82.5M82.5 181.6H80.9V182.3H81.1M80.9 182.0H79.8V182.8H82.5M82.5 183.4H81.6V183.7H82.5M82.5 183.1H80.8V183.6H81.6M79.8 182.4H78.5V183.4H80.8M79.0 180.1H78.3V182.9H78.5M82.5 184.0H81.3V184.3H82.5M78.3 181.5H77.6V184.2H81.3M82.5 184.9H80.9V185.2H82.5M80.9 185.1H80.9V185.5H82.5M82.5 184.6H80.1V185.3H80.9M80.1 185.0H79.2V185.8H82.5M82.5 186.1H80.3V186.4H82.5M79.2 185.4H78.1V186.3H80.3M78.1 185.8H78.0V186.7H82.5M77.6 182.8H77.2V186.3H78.0M78.5 176.7H76.9V184.6H77.2M76.7 170.2H74.9V180.6H76.9M82.5 187.3H81.3V187.6H82.5M82.5 187.9H81.5V188.2H82.5M81.3 187.5H81.3V188.1H81.5M82.5 188.8H81.5V189.1H82.5M82.5 188.5H81.0V189.0H81.5M81.3 187.8H80.9V188.8H81.0M82.5 187.0H80.4V188.3H80.9M82.5 189.4H82.1V189.7H82.5M82.1 189.6H81.5V190.0H82.5M80.4 187.7H79.0V189.8H81.5M82.5 190.9H79.2V191.2H82.5M82.5 190.6H79.1V191.1H79.2M82.5 190.3H77.7V190.9H79.1M82.5 192.1H81.4V192.4H82.5M82.5 192.7H81.0V193.0H82.5M82.5 193.3H81.0V193.6H82.5M81.0 192.9H80.9V193.5H81.0M81.4 192.3H80.2V193.2H80.9M82.5 193.9H80.5V194.2H82.5M80.2 192.7H80.1V194.1H80.5M82.5 191.8H79.9V193.4H80.1M82.5 191.5H79.0V192.6H79.9M82.5 194.5H81.5V194.8H82.5M81.5 194.7H80.3V195.2H82.5M79.0 192.1H78.2V194.9H80.3M77.7 190.6H74.7V193.5H78.2M82.5 195.5H80.0V195.8H82.5M82.5 196.1H77.4V196.4H82.5M80.0 195.6H77.1V196.2H77.4M82.5 197.0H81.5V197.3H82.5M82.5 197.9H81.6V198.2H82.5M82.5 198.8H81.7V199.1H82.5M82.5 198.5H81.4V198.9H81.7M81.6 198.0H80.7V198.7H81.4M82.5 197.6H80.6V198.3H80.7M81.5 197.1H80.4V197.9H80.6M82.5 200.0H81.2V200.3H82.5M82.5 199.7H80.9V200.1H81.2M80.9 199.9H80.8V200.6H82.5M82.5 200.9H80.6V201.2H82.5M80.8 200.2H80.6V201.0H80.6M82.5 201.5H80.6V201.8H82.5M80.6 200.6H80.1V201.6H80.6M82.5 199.4H80.1V201.1H80.1M80.4 197.5H79.7V200.2H80.1M79.7 198.9H79.3V202.1H82.5M82.5 202.7H80.9V203.0H82.5M80.9 202.8H80.9V203.3H82.5M82.5 202.4H79.4V203.0H80.9M82.5 203.6H80.3V203.9H82.5M82.5 204.5H82.1V204.8H82.5M82.5 204.2H82.0V204.6H82.1M80.3 203.7H80.1V204.4H82.0M82.5 205.1H79.5V205.4H82.5M80.1 204.1H79.4V205.2H79.5M79.4 202.7H79.2V204.6H79.4M79.3 200.5H79.1V203.7H79.2M82.5 196.7H78.5V202.1H79.1M77.1 195.9H76.7V199.4H78.5M82.5 206.6H81.5V206.9H82.5M82.5 206.3H80.0V206.7H81.5M82.5 206.0H79.7V206.5H80.0M82.5 205.7H78.6V206.2H79.7M82.5 207.2H80.8V207.5H82.5M82.5 207.8H79.7V208.1H82.5M79.7 207.9H79.6V208.4H82.5M80.8 207.3H79.1V208.1H79.6M78.6 206.0H78.1V207.7H79.1M82.5 208.7H80.7V209.0H82.5M82.5 209.3H81.1V209.6H82.5M80.7 208.8H80.6V209.4H81.1M80.6 209.1H80.6V209.9H82.5M78.1 206.8H78.1V209.5H80.6M76.7 197.6H76.4V208.2H78.1M82.5 210.2H80.6V210.5H82.5M82.5 211.1H78.6V211.4H82.5M82.5 211.7H81.2V212.0H82.5M81.2 211.8H79.4V212.3H82.5M78.6 211.2H78.4V212.1H79.4M82.5 210.8H78.3V211.6H78.4M80.6 210.3H77.2V211.2H78.3M82.5 212.6H80.9V212.9H82.5M82.5 213.2H80.9V213.5H82.5M80.9 212.7H80.1V213.3H80.9M82.5 213.8H81.3V214.1H82.5M80.1 213.0H79.5V213.9H81.3M77.2 210.8H75.6V213.5H79.5M82.5 214.7H81.6V215.0H82.5M82.5 214.4H80.6V214.8H81.6M75.6 212.1H75.5V214.6H80.6M76.4 202.9H75.2V213.4H75.5M82.5 215.6H79.1V215.9H82.5M82.5 216.2H80.6V216.5H82.5M80.6 216.3H80.4V216.8H82.5M79.1 215.7H79.0V216.6H80.4M79.0 216.2H78.6V217.1H82.5M78.6 216.6H78.0V217.4H82.5M82.5 218.0H80.7V218.3H82.5M80.7 218.1H80.3V218.6H82.5M82.5 217.7H79.7V218.4H80.3M78.0 217.0H78.0V218.0H79.7M82.5 215.3H77.9V217.5H78.0M77.9 216.4H77.4V218.9H82.5M82.5 219.5H80.7V219.8H82.5M82.5 219.2H80.5V219.6H80.7M82.5 220.7H81.5V221.0H82.5M82.5 221.3H80.7V221.6H82.5M81.5 220.8H80.6V221.4H80.7M82.5 221.9H81.7V222.2H82.5M80.6 221.1H79.7V222.0H81.7M82.5 220.4H78.6V221.6H79.7M82.5 220.1H78.6V221.0H78.6M80.5 219.4H77.0V220.5H78.6M82.5 222.5H79.5V222.8H82.5M82.5 223.1H81.4V223.4H82.5M81.4 223.3H80.1V223.7H82.5M79.5 222.7H79.2V223.5H80.1M77.0 220.0H76.9V223.1H79.2M82.5 224.0H81.6V224.3H82.5M81.6 224.2H79.5V224.6H82.5M82.5 224.9H80.9V225.2H82.5M79.5 224.4H78.6V225.1H80.9M82.5 225.5H80.5V225.8H82.5M78.6 224.7H78.3V225.7H80.5M82.5 226.4H79.7V226.7H82.5M82.5 226.1H79.0V226.6H79.7M78.3 225.2H77.0V226.3H79.0M76.9 221.5H76.7V225.8H77.0M77.4 217.6H76.2V223.6H76.7M75.2 208.1H74.6V220.6H76.2M74.7 192.1H74.3V214.4H74.6M82.5 227.0H78.3V227.3H82.5M82.5 227.6H81.4V227.9H82.5M81.4 227.8H80.9V228.2H82.5M80.9 228.0H78.3V228.5H82.5M82.5 228.8H80.1V229.1H82.5M82.5 229.4H81.3V229.7H82.5M82.5 230.0H81.3V230.3H82.5M81.3 229.6H79.7V230.2H81.3M82.5 230.9H80.9V231.2H82.5M82.5 230.6H80.7V231.1H80.9M80.7 230.8H80.0V231.5H82.5M79.7 229.9H79.4V231.2H80.0M80.1 229.0H78.4V230.5H79.4M78.3 228.2H78.1V229.7H78.4M78.3 227.2H76.8V229.0H78.1M82.5 231.8H81.2V232.1H82.5M81.2 232.0H80.8V232.4H82.5M82.5 232.7H80.6V233.0H82.5M80.8 232.2H77.6V232.9H80.6M82.5 233.6H79.9V233.9H82.5M82.5 233.3H79.7V233.8H79.9M79.7 233.5H79.4V234.2H82.5M82.5 235.4H81.6V235.7H82.5M81.6 235.6H81.1V236.0H82.5M82.5 235.1H79.6V235.8H81.1M82.5 234.8H79.1V235.5H79.6M82.5 234.5H78.7V235.1H79.1M82.5 236.6H79.1V236.9H82.5M82.5 237.2H80.8V237.5H82.5M82.5 237.8H81.1V238.1H82.5M80.8 237.4H79.4V238.0H81.1M82.5 238.4H81.0V238.7H82.5M81.0 238.6H80.4V239.0H82.5M79.4 237.7H79.3V238.8H80.4M82.5 239.3H80.5V239.6H82.5M79.3 238.2H79.2V239.5H80.5M79.1 236.8H78.8V238.9H79.2M82.5 240.2H79.4V240.5H82.5M82.5 239.9H79.2V240.4H79.4M78.8 237.8H78.8V240.2H79.2M82.5 236.3H78.3V239.0H78.8M82.5 241.1H81.6V241.4H82.5M82.5 240.8H81.6V241.3H81.6M81.6 241.1H78.8V241.7H82.5M78.8 241.4H78.0V242.0H82.5M78.3 237.7H76.7V241.7H78.0M78.7 234.8H76.1V239.7H76.7M79.4 233.9H74.9V237.3H76.1M77.6 232.5H74.7V235.6H74.9M76.8 228.1H74.5V234.1H74.7M74.3 203.2H73.4V231.1H74.5M82.5 242.3H78.5V242.6H82.5M82.5 242.9H81.1V243.2H82.5M82.5 243.8H81.3V244.1H82.5M81.3 244.0H81.1V244.4H82.5M81.1 244.2H80.2V244.7H82.5M82.5 245.0H82.1V245.3H82.5M82.1 245.2H79.9V245.6H82.5M82.5 245.9H80.3V246.2H82.5M79.9 245.4H79.6V246.1H80.3M79.6 245.8H79.6V246.5H82.5M80.2 244.5H79.5V246.1H79.6M82.5 246.8H81.2V247.1H82.5M82.5 247.7H81.2V248.0H82.5M82.5 247.4H80.4V247.9H81.2M80.4 247.7H79.7V248.3H82.5M81.2 247.0H79.3V248.0H79.7M79.5 245.3H79.2V247.5H79.3M82.5 243.5H78.7V246.4H79.2M81.1 243.1H78.5V245.0H78.7M78.5 242.5H78.3V244.0H78.5M82.5 249.2H81.7V249.5H82.5M82.5 248.9H81.7V249.4H81.7M82.5 248.6H81.5V249.2H81.7M78.3 243.3H76.0V248.9H81.5M76.0 246.1H73.6V249.8H82.5M73.4 217.1H73.4V248.0H73.6M79.0 188.7H73.4V232.6H73.4M74.9 175.4H73.0V210.6H73.4M68.4 150.2H67.6V193.0H73.0M67.6 144.6V171.6M82.5 250.2H79.8V250.4H82.5M82.5 251.3H81.7V251.7H82.5M82.5 251.1H80.8V251.5H81.7M82.5 250.8H80.6V251.3H80.8M79.8 250.3H79.5V251.0H80.6M79.5 250.7H79.0V251.9H82.5M82.5 252.2H81.6V252.6H82.5M81.6 252.4H80.9V252.8H82.5M80.9 252.6H80.6V253.2H82.5M80.6 252.9H79.4V253.4H82.5M79.4 253.2H78.8V253.8H82.5M79.0 251.3H78.8V253.5H78.8M78.8 252.4H76.0V254.1H82.5M82.5 254.3H76.2V254.7H82.5M82.5 254.9H81.0V255.2H82.5M81.0 255.1H80.3V255.6H82.5M82.5 256.4H81.6V256.8H82.5M81.6 256.6H81.6V257.1H82.5M82.5 256.1H79.3V256.8H81.6M82.5 255.8H78.7V256.5H79.3M82.5 258.2H81.5V258.6H82.5M82.5 257.9H80.1V258.4H81.5M82.5 257.6H79.9V258.2H80.1M82.5 257.4H78.6V257.9H79.9M78.6 257.6H78.5V258.9H82.5M78.7 256.2H77.5V258.2H78.5M77.5 257.2H76.4V259.1H82.5M80.3 255.3H75.9V258.2H76.4M76.2 254.5H75.0V256.8H75.9M76.0 253.2H74.9V255.6H75.0M82.5 260.1H81.0V260.4H82.5M82.5 259.8H79.8V260.2H81.0M82.5 259.4H79.3V260.0H79.8M79.3 259.7H75.6V260.6H82.5M74.9 254.4H73.4V260.2H75.6M82.5 260.9H80.4V261.2H82.5M82.5 262.1H81.9V262.4H82.5M82.5 261.9H80.3V262.3H81.9M80.3 262.1H80.0V262.8H82.5M82.5 261.6H79.2V262.4H80.0M80.4 261.1H78.7V262.0H79.2M82.5 263.1H81.3V263.4H82.5M82.5 263.6H82.1V263.9H82.5M81.3 263.2H80.7V263.8H82.1M78.7 261.5H77.9V263.5H80.7M82.5 264.6H79.3V264.9H82.5M82.5 264.2H78.2V264.7H79.3M77.9 262.5H75.3V264.5H78.2M73.4 257.3H73.0V263.5H75.3M73.0 258.0V260.4M82.5 265.5H81.4V265.8H82.5M82.5 265.2H81.1V265.6H81.4M82.5 266.1H81.1V266.4H82.5M81.1 266.2H81.0V266.7H82.5M81.1 265.4H80.9V266.4H81.0M80.9 265.9H80.8V267.0H82.5M80.8 266.4H80.6V267.3H82.5M82.5 267.6H81.8V267.9H82.5M82.5 268.8H82.1V269.1H82.5M82.5 268.5H81.7V268.9H82.1M82.5 268.2H81.3V268.7H81.7M81.8 267.7H80.5V268.4H81.3M82.5 269.4H81.6V269.7H82.5M81.6 269.5H81.4V270.0H82.5M82.5 270.3H81.7V270.6H82.5M82.5 270.9H80.9V271.2H82.5M81.7 270.5H80.8V271.1H80.9M81.4 269.8H80.2V270.8H80.8M80.5 268.1H79.9V270.3H80.2M79.9 269.2H79.6V271.5H82.5M82.5 271.8H81.5V272.1H82.5M82.5 272.4H80.9V272.7H82.5M82.5 273.0H81.0V273.3H82.5M80.9 272.6H80.6V273.2H81.0M82.5 273.6H81.7V273.9H82.5M81.7 273.8H80.5V274.2H82.5M80.6 272.9H79.7V274.0H80.5M81.5 272.0H79.4V273.4H79.7M79.6 270.3H79.2V272.7H79.4M82.5 274.5H81.1V274.8H82.5M79.2 271.5H78.8V274.7H81.1M80.6 266.9H77.8V273.1H78.8M82.5 275.2H81.4V275.5H82.5M82.5 276.4H81.7V276.7H82.5M82.5 276.1H81.4V276.5H81.7M81.4 276.3H81.3V277.0H82.5M82.5 275.8H81.2V276.6H81.3M82.5 277.3H81.5V277.6H82.5M81.2 276.2H80.8V277.4H81.5M81.4 275.3H80.5V276.8H80.8M80.5 276.1H79.5V277.9H82.5M82.5 278.2H81.9V278.5H82.5M82.5 278.8H80.6V279.1H82.5M80.6 278.9H80.5V279.4H82.5M81.9 278.3H79.5V279.2H80.5M79.5 277.0H77.9V278.8H79.5M77.8 270.0H76.1V277.9H77.9M82.5 280.6H82.1V280.9H82.5M82.5 280.3H80.6V280.8H82.1M82.5 280.0H80.4V280.5H80.6M82.5 281.2H81.4V281.5H82.5M82.5 281.8H80.7V282.1H82.5M81.4 281.4H80.6V282.0H80.7M80.4 280.3H79.6V281.7H80.6M79.6 281.0H79.3V282.4H82.5M82.5 279.7H78.7V281.7H79.3M82.5 282.7H79.2V283.0H82.5M82.5 283.3H81.0V283.6H82.5M81.0 283.5H80.2V283.9H82.5M82.5 284.2H81.8V284.5H82.5M80.2 283.7H79.7V284.4H81.8M79.2 282.9H78.5V284.1H79.7M78.7 280.7H76.0V283.5H78.5M76.0 282.1H76.0V284.8H82.5M76.1 273.9H74.0V283.5H76.0M74.0 270.8V278.7M82.5 285.5H81.9V285.8H82.5M82.5 285.2H81.6V285.6H81.9M81.6 285.4H78.5V286.1H82.5M82.5 286.4H81.6V286.7H82.5M81.6 286.5H81.6V287.0H82.5M78.5 285.7H77.0V286.7H81.6M82.5 287.6H82.1V287.9H82.5M82.1 287.7H81.6V288.2H82.5M82.5 287.3H81.0V287.9H81.6M82.5 288.5H80.4V288.8H82.5M80.4 288.6H80.2V289.1H82.5M82.5 290.0H82.0V290.3H82.5M82.5 289.7H81.4V290.1H82.0M82.5 290.6H81.8V290.9H82.5M81.8 290.7H81.2V291.2H82.5M81.4 289.9H80.6V291.0H81.2M82.5 289.4H80.3V290.4H80.6M80.2 288.8H79.4V289.9H80.3M82.5 291.8H81.1V292.1H82.5M81.1 291.9H81.1V292.4H82.5M82.5 291.5H80.5V292.2H81.1M80.5 291.8H80.3V292.7H82.5M82.5 293.0H81.9V293.3H82.5M81.9 293.1H80.9V293.6H82.5M80.3 292.2H80.0V293.4H80.9M82.5 294.2H81.7V294.5H82.5M82.5 294.8H82.1V295.1H82.5M82.1 294.9H81.7V295.4H82.5M81.7 294.3H81.6V295.2H81.7M82.5 293.9H80.2V294.8H81.6M82.5 296.0H81.7V296.3H82.5M81.7 296.1H81.5V296.6H82.5M81.5 296.4H81.2V296.9H82.5M82.5 297.5H81.7V297.8H82.5M82.5 297.2H81.4V297.7H81.7M81.2 296.6H81.2V297.4H81.4M82.5 295.7H81.2V297.0H81.2M81.2 296.4H80.4V298.1H82.5M82.5 298.4H81.5V298.7H82.5M81.5 298.6H81.5V299.0H82.5M82.5 299.3H82.0V299.6H82.5M82.0 299.5H81.6V299.9H82.5M81.6 299.7H81.4V300.2H82.5M82.5 300.8H81.7V301.1H82.5M82.5 300.5H81.3V301.0H81.7M81.4 300.0H81.0V300.7H81.3M82.5 302.0H82.1V302.3H82.5M82.5 301.7H82.1V302.2H82.1M82.5 301.4H81.9V301.9H82.1M81.0 300.3H80.8V301.7H81.9M82.5 302.6H82.1V302.9H82.5M82.1 302.8H80.6V303.2H82.5M80.6 303.0H80.4V303.5H82.5M80.8 301.0H80.2V303.3H80.4M82.5 304.1H81.5V304.4H82.5M82.5 303.8H81.3V304.3H81.5M82.5 305.0H81.9V305.3H82.5M82.5 304.7H81.6V305.2H81.9M81.3 304.1H81.0V305.0H81.6M80.2 302.1H80.2V304.5H81.0M81.5 298.8H79.5V303.3H80.2M82.5 305.6H81.7V305.9H82.5M79.5 301.1H79.4V305.8H81.7M80.4 297.2H78.7V303.4H79.4M80.2 294.3H78.6V300.3H78.7M80.0 292.8H78.3V297.3H78.6M79.4 289.4H78.1V295.1H78.3M82.5 306.5H81.5V306.8H82.5M81.5 306.7H80.7V307.1H82.5M82.5 306.2H80.6V306.9H80.7M82.5 307.4H81.9V307.7H82.5M82.5 308.0H81.8V308.3H82.5M81.9 307.6H81.7V308.2H81.8M81.7 307.9H81.0V308.7H82.5M82.5 309.3H81.6V309.6H82.5M81.6 309.4H81.5V309.9H82.5M82.5 309.0H81.1V309.6H81.5M81.0 308.3H80.7V309.3H81.1M82.5 310.8H81.9V311.1H82.5M82.5 310.5H81.0V310.9H81.9M82.5 311.7H80.9V312.0H82.5M82.5 311.4H80.8V311.8H80.9M81.0 310.7H80.4V311.6H80.8M82.5 310.2H79.6V311.1H80.4M80.7 308.8H79.5V310.6H79.6M80.6 306.6H79.4V309.7H79.5M82.5 312.6H81.8V312.9H82.5M81.8 312.7H81.8V313.2H82.5M82.5 312.3H80.1V312.9H81.8M82.5 313.5H80.9V313.8H82.5M82.5 314.4H81.8V314.7H82.5M82.5 314.1H81.2V314.5H81.8M81.2 314.3H80.8V315.0H82.5M80.9 313.6H80.0V314.6H80.8M80.1 312.6H79.1V314.1H80.0M82.5 315.6H81.8V315.9H82.5M82.5 316.2H81.4V316.5H82.5M81.8 315.7H81.3V316.3H81.4M81.3 316.0H80.9V316.8H82.5M82.5 315.3H80.7V316.4H80.9M80.7 315.8H79.7V317.1H82.5M79.1 313.4H78.5V316.5H79.7M79.4 308.1H78.2V314.9H78.5M78.1 292.2H78.0V311.5H78.2M81.0 287.6H77.4V301.9H78.0M82.5 317.7H81.4V318.0H82.5M82.5 318.6H81.4V318.9H82.5M82.5 318.3H81.0V318.7H81.4M82.5 319.5H81.8V319.8H82.5M82.5 319.2H81.0V319.6H81.8M81.0 318.5H81.0V319.4H81.0M81.4 317.8H80.9V319.0H81.0M82.5 317.4H80.8V318.4H80.9M82.5 320.4H81.7V320.7H82.5M82.5 320.1H81.3V320.6H81.7M82.5 321.0H81.4V321.3H82.5M81.3 320.3H80.5V321.2H81.4M80.8 317.9H80.4V320.7H80.5M82.5 322.2H81.6V322.5H82.5M81.6 322.4H81.4V322.8H82.5M82.5 321.9H81.0V322.6H81.4M82.5 321.6H80.5V322.2H81.0M82.5 323.1H81.6V323.4H82.5M82.5 323.7H82.1V324.0H82.5M82.1 323.9H80.8V324.3H82.5M81.6 323.3H80.1V324.1H80.8M82.5 324.9H81.0V325.2H82.5M82.5 324.6H80.7V325.1H81.0M80.1 323.7H80.0V324.8H80.7M80.5 321.9H79.9V324.3H80.0M82.5 325.8H81.7V326.1H82.5M82.5 325.5H81.7V326.0H81.7M81.7 325.7H80.9V326.4H82.5M79.9 323.1H79.7V326.1H80.9M82.5 327.0H81.2V327.3H82.5M81.2 327.2H80.7V327.6H82.5M82.5 326.7H80.6V327.4H80.7M82.5 328.2H82.3V328.5H82.5M82.5 327.9H81.9V328.4H82.3M82.5 328.8H81.9V329.1H82.5M81.9 328.2H81.8V329.0H81.9M82.5 329.4H81.8V329.7H82.5M81.8 329.6H81.7V330.0H82.5M81.8 328.6H81.5V329.8H81.7M82.5 330.6H81.1V330.9H82.5M82.5 330.3H80.9V330.8H81.1M81.5 329.2H80.6V330.6H80.9M80.6 327.1H80.6V329.9H80.6M79.7 324.6H79.3V328.5H80.6M82.5 331.2H81.4V331.5H82.5M81.4 331.4H81.4V331.8H82.5M79.3 326.5H78.2V331.6H81.4M80.4 319.3H77.9V329.1H78.2M77.4 294.7H77.2V324.2H77.9M77.0 286.2H72.0V309.5H77.2M72.0 327.5V297.8M82.5 332.8H79.7V333.1H82.5M82.5 332.4H79.0V332.9H79.7M82.5 332.1H72.3V332.7H79.0M82.5 333.4H75.8V333.6H82.5M75.8 333.5H74.9V333.9H82.5M74.9 333.7H74.8V334.2H82.5M82.5 334.6H77.8V334.9H82.5M82.5 335.1H79.0V335.4H82.5M77.8 334.7H76.9V335.3H79.0M76.9 335.0H76.3V335.8H82.5M82.5 336.1H77.8V336.4H82.5M76.3 335.4H76.1V336.2H77.8M76.1 335.8H74.6V336.6H82.5M74.8 334.0H73.8V336.2H74.6M72.3 332.4H72.1V335.1H73.8M82.5 336.9H79.0V337.2H82.5M79.0 337.1H74.0V337.6H82.5M74.0 337.3H73.6V337.9H82.5M72.1 333.8H60.5V337.6H73.6M60.5 334.6V335.7M82.5 338.4H76.6V338.8H82.5M82.5 338.1H68.7V338.6H76.6M82.5 339.6H75.2V339.9H82.5M82.5 339.4H74.4V339.8H75.2M74.4 339.6H72.9V340.2H82.5M82.5 339.1H71.0V339.9H72.9M82.5 340.6H69.7V340.9H82.5M71.0 339.5H69.4V340.7H69.7M68.7 338.4H67.9V340.1H69.4M82.5 341.1H75.2V341.4H82.5M82.5 341.8H75.4V342.1H82.5M75.2 341.3H71.1V341.9H75.4M82.5 342.9H77.7V343.2H82.5M77.7 343.1H76.4V343.6H82.5M82.5 342.6H75.9V343.3H76.4M82.5 342.4H73.3V343.0H75.9M73.3 342.7H72.9V343.9H82.5M71.1 341.6H70.2V343.3H72.9M82.5 344.4H77.5V344.8H82.5M77.5 344.6H75.6V345.1H82.5M75.6 344.8H73.7V345.4H82.5M82.5 344.1H70.2V345.1H73.7M70.2 342.4H65.7V344.6H70.2M67.9 339.2H58.4V343.5H65.7M58.4 341.7V341.4M82.5 345.7H71.6V346.0H82.5M71.6 345.8H70.7V346.3H82.5M82.5 347.2H77.8V347.5H82.5M82.5 346.9H74.2V347.3H77.8M82.5 347.8H77.3V348.1H82.5M74.2 347.1H72.9V347.9H77.3M72.9 347.5H72.2V348.4H82.5M82.5 346.6H70.0V348.0H72.2M82.5 348.7H76.5V349.0H82.5M82.5 349.3H73.2V349.6H82.5M76.5 348.9H72.2V349.5H73.2M70.0 347.3H69.8V349.2H72.2M70.7 346.0H66.3V348.2H69.8M82.5 350.2H77.9V350.5H82.5M77.9 350.4H69.4V350.8H82.5M82.5 349.9H69.3V350.6H69.4M66.3 347.1H57.0V350.3H69.3M57.0 347.3V348.7M82.5 351.8H77.6V352.1H82.5M82.5 351.4H77.2V351.9H77.6M82.5 351.1H75.5V351.7H77.2M75.5 351.4H74.9V352.4H82.5M82.5 352.9H78.8V353.2H82.5M82.5 353.6H79.7V353.9H82.5M79.7 353.7H79.6V354.1H82.5M82.5 354.4H78.9V354.8H82.5M79.6 353.9H78.0V354.6H78.9M78.0 354.3H77.8V355.1H82.5M78.8 353.1H77.4V354.7H77.8M82.5 352.6H75.5V353.9H77.4M74.9 351.9H74.7V353.3H75.5M82.5 355.9H80.4V356.2H82.5M82.5 355.6H78.7V356.1H80.4M82.5 356.9H80.4V357.1H82.5M82.5 356.6H79.5V357.0H80.4M78.7 355.9H78.6V356.8H79.5M82.5 355.4H75.4V356.3H78.6M82.5 357.4H78.0V357.8H82.5M78.0 357.6H75.7V358.1H82.5M75.4 355.8H74.7V357.8H75.7M74.7 352.6H65.1V356.8H74.7M82.5 358.6H76.6V358.9H82.5M82.5 358.4H76.2V358.8H76.6M82.5 359.6H78.6V359.9H82.5M82.5 359.2H77.5V359.7H78.6M76.2 358.6H75.9V359.5H77.5M65.1 354.7H60.0V359.0H75.9M60.0 355.9V356.9M82.5 360.2H74.7V360.5H82.5M82.5 361.1H77.9V361.4H82.5M77.9 361.2H77.6V361.7H82.5M77.6 361.4H77.1V362.0H82.5M82.5 360.8H74.9V361.7H77.1M74.9 361.2H73.9V362.3H82.5M73.9 361.7H71.8V362.6H82.5M71.8 362.2H71.8V362.9H82.5M74.7 360.3H68.2V362.5H71.8M82.5 363.2H74.6V363.5H82.5M82.5 363.8H72.4V364.1H82.5M82.5 364.4H78.7V364.7H82.5M72.4 363.9H70.5V364.5H78.7M74.6 363.3H69.9V364.2H70.5M68.2 361.4H67.8V363.8H69.9M82.5 365.0H78.1V365.3H82.5M78.1 365.1H77.2V365.6H82.5M82.5 365.9H75.0V366.2H82.5M77.2 365.3H69.9V366.0H75.0M67.8 362.6H67.1V365.7H69.9M82.5 366.8H76.9V367.1H82.5M82.5 366.5H72.9V366.9H76.9M82.5 367.4H75.0V367.7H82.5M72.9 366.7H72.9V367.5H75.0M72.9 367.1H64.5V368.0H82.5M82.5 368.6H75.0V368.9H82.5M75.0 368.7H73.2V369.2H82.5M82.5 368.3H70.0V369.0H73.2M82.5 369.5H76.2V369.8H82.5M76.2 369.6H76.2V370.1H82.5M82.5 371.3H78.8V371.6H82.5M82.5 371.0H74.5V371.5H78.8M82.5 370.7H74.4V371.2H74.5M82.5 370.4H70.0V371.0H74.4M76.2 369.9H69.3V370.7H70.0M70.0 368.6H68.1V370.3H69.3M82.5 372.2H77.8V372.5H82.5M77.8 372.4H77.1V372.8H82.5M77.1 372.6H76.5V373.1H82.5M82.5 371.9H73.9V372.8H76.5M68.1 369.5H67.2V372.4H73.9M64.5 367.6H63.8V370.9H67.2M82.5 373.7H77.6V374.0H82.5M82.5 373.4H70.2V373.9H77.6M63.8 369.2H63.1V373.6H70.2M67.1 364.1H62.8V371.4H63.1M82.5 374.9H79.8V375.2H82.5M82.5 374.6H76.9V375.1H79.8M82.5 375.5H75.6V375.8H82.5M82.5 376.1H75.4V376.4H82.5M75.6 375.7H74.0V376.3H75.4M76.9 374.8H68.6V376.0H74.0M68.6 375.4H66.6V376.7H82.5M82.5 374.3H66.0V376.1H66.6M82.5 377.3H74.0V377.6H82.5M74.0 377.5H72.3V377.9H82.5M82.5 378.2H78.0V378.5H82.5M72.3 377.7H70.5V378.4H78.0M82.5 377.0H69.5V378.0H70.5M82.5 378.8H74.7V379.1H82.5M82.5 379.4H72.9V379.7H82.5M74.7 379.0H72.3V379.6H72.9M72.3 379.3H68.9V380.0H82.5M68.9 379.7H67.8V380.3H82.5M69.5 377.5H66.7V380.0H67.8M66.0 375.2H64.9V378.8H66.7M62.8 367.8H61.7V377.0H64.9M82.5 380.9H76.5V381.2H82.5M82.5 380.6H74.8V381.1H76.5M82.5 381.5H75.7V381.8H82.5M74.8 380.9H72.8V381.7H75.7M61.7 372.4H58.0V381.3H72.8M58.0 365.8V376.8M82.5 382.5H78.8V382.8H82.5M78.8 382.6H76.9V383.1H82.5M82.5 382.2H74.7V382.8H76.9M74.7 382.5H74.4V383.4H82.5M82.5 383.7H76.7V384.0H82.5M74.4 382.9H74.1V383.8H76.7M82.5 384.6H80.0V384.9H82.5M82.5 385.8H78.5V386.1H82.5M82.5 385.5H77.9V386.0H78.5M77.9 385.7H77.1V386.4H82.5M82.5 385.2H76.7V386.1H77.1M80.0 384.7H76.3V385.6H76.7M82.5 386.7H76.5V387.0H82.5M76.3 385.2H76.2V386.9H76.5M82.5 384.3H73.0V386.0H76.2M82.5 387.9H78.7V388.2H82.5M82.5 387.6H78.4V388.1H78.7M82.5 388.5H78.6V388.8H82.5M78.4 387.9H74.7V388.7H78.6M82.5 387.3H74.2V388.3H74.7M73.0 385.2H72.7V387.8H74.2M74.1 383.4H72.5V386.5H72.7M72.5 384.9V384.9M82.5 389.2H72.9V389.5H82.5M72.9 389.3H71.5V389.8H82.5M82.5 390.1H71.3V390.4H82.5M71.5 389.5H68.4V390.2H71.3M82.5 390.7H75.3V391.0H82.5M82.5 391.3H75.9V391.6H82.5M82.5 392.5H79.7V392.8H82.5M82.5 392.2H76.7V392.7H79.7M82.5 391.9H73.1V392.5H76.7M75.9 391.5H72.8V392.2H73.1M75.3 390.8H70.5V391.8H72.8M82.5 393.8H76.0V394.1H82.5M76.0 393.9H74.9V394.4H82.5M82.5 393.5H73.0V394.2H74.9M82.5 393.2H72.0V393.8H73.0M82.5 394.7H73.5V395.0H82.5M72.0 393.5H71.6V394.8H73.5M70.5 391.3H68.8V394.2H71.6M82.5 395.6H76.4V395.9H82.5M82.5 395.3H73.1V395.8H76.4M82.5 396.2H75.8V396.5H82.5M75.8 396.4H72.7V396.8H82.5M73.1 395.5H70.8V396.6H72.7M68.8 392.8H67.5V396.1H70.8M68.4 389.9H65.5V394.4H67.5M65.5 392.7V392.1M82.5 397.2H81.0V397.5H82.5M81.0 397.3H79.5V397.8H82.5M82.5 398.1H79.9V398.4H82.5M79.9 398.2H79.1V398.7H82.5M79.5 397.5H78.0V398.4H79.1M82.5 399.0H78.9V399.3H82.5M78.0 398.0H78.0V399.1H78.9M82.5 399.6H79.4V399.9H82.5M79.4 399.7H79.3V400.2H82.5M82.5 400.5H81.1V400.8H82.5M81.1 400.6H80.8V401.1H82.5M79.3 399.9H79.3V400.8H80.8M82.5 401.4H79.5V401.7H82.5M79.3 400.4H78.1V401.5H79.5M82.5 402.3H79.3V402.6H82.5M82.5 402.0H79.1V402.4H79.3M82.5 402.9H78.6V403.2H82.5M79.1 402.2H77.0V403.0H78.6M78.1 401.0H76.0V402.6H77.0M82.5 403.5H80.3V403.8H82.5M80.3 403.6H78.3V404.1H82.5M82.5 404.4H78.0V404.7H82.5M78.3 403.8H77.8V404.5H78.0M82.5 405.6H79.8V405.9H82.5M82.5 405.3H79.0V405.7H79.8M82.5 406.2H78.9V406.5H82.5M78.9 406.3H77.1V406.8H82.5M79.0 405.5H77.1V406.6H77.1M82.5 405.0H77.0V406.0H77.1M77.8 404.2H76.7V405.5H77.0M82.5 407.4H80.1V407.7H82.5M80.1 407.5H79.3V408.0H82.5M82.5 407.1H78.6V407.8H79.3M82.5 408.3H79.3V408.6H82.5M78.6 407.4H77.4V408.4H79.3M82.5 408.9H78.9V409.2H82.5M82.5 409.5H79.8V409.8H82.5M79.8 409.6H79.1V410.1H82.5M78.9 409.0H78.7V409.9H79.1M82.5 410.4H79.4V410.7H82.5M82.5 411.0H80.0V411.3H82.5M79.4 410.5H79.4V411.2H80.0M82.5 411.6H80.7V411.9H82.5M80.7 411.8H79.8V412.2H82.5M79.4 410.8H77.4V412.0H79.8M77.4 411.4H77.1V412.5H82.5M78.7 409.5H76.6V412.0H77.1M77.4 407.9H76.5V410.7H76.6M76.7 404.8H76.0V409.3H76.5M82.5 412.8H79.3V413.1H82.5M82.5 413.4H81.0V413.7H82.5M82.5 414.6H80.9V414.9H82.5M82.5 414.3H80.5V414.8H80.9M80.5 414.5H79.7V415.2H82.5M79.7 414.9H78.5V415.5H82.5M82.5 414.0H78.5V415.2H78.5M82.5 415.8H78.8V416.1H82.5M78.5 414.6H78.3V416.0H78.8M81.0 413.6H77.5V415.3H78.3M82.5 416.7H80.6V417.0H82.5M82.5 417.3H79.7V417.6H82.5M80.6 416.9H79.5V417.5H79.7M82.5 416.4H77.7V417.2H79.5M77.5 414.4H77.5V416.8H77.7M79.3 413.0H77.0V415.6H77.5M82.5 417.9H79.7V418.2H82.5M82.5 418.5H78.8V418.8H82.5M79.7 418.1H77.0V418.7H78.8M77.0 414.3H76.9V418.4H77.0M76.0 407.1H75.8V416.3H76.9M76.0 401.8H75.3V411.7H75.8M78.0 398.5H74.7V406.7H75.3M82.5 419.1H79.1V419.4H82.5M82.5 419.7H79.2V420.0H82.5M79.1 419.3H79.0V419.9H79.2M79.0 419.6H78.7V420.3H82.5M74.7 402.6H72.4V420.0H78.7M82.5 420.9H80.1V421.2H82.5M82.5 420.6H79.7V421.1H80.1M79.7 420.9H79.3V421.5H82.5M82.5 421.8H80.2V422.1H82.5M79.3 421.2H77.7V422.0H80.2M82.5 423.3H80.0V423.6H82.5M82.5 423.9H80.1V424.2H82.5M80.0 423.5H79.4V424.1H80.1M82.5 423.0H79.4V423.8H79.4M82.5 422.7H79.2V423.4H79.4M82.5 422.4H77.5V423.1H79.2M77.7 421.6H77.5V422.8H77.5M77.5 422.2H76.4V424.5H82.5M76.4 423.4H75.2V424.8H82.5M72.4 411.3H72.0V424.1H75.2M72.0 402.6V417.7M82.5 425.1H78.8V425.4H82.5M82.5 425.8H80.7V426.1H82.5M80.7 425.9H79.2V426.4H82.5M78.8 425.3H78.4V426.1H79.2M82.5 426.9H78.1V427.2H82.5M82.5 426.6H77.8V427.1H78.1M78.4 425.7H77.6V426.9H77.8M82.5 427.9H79.0V428.1H82.5M82.5 427.6H78.1V428.0H79.0M77.6 426.3H76.4V427.8H78.1M82.5 428.4H80.7V428.8H82.5M80.7 428.6H80.0V429.1H82.5M80.0 428.8H79.5V429.4H82.5M82.5 429.6H79.6V429.9H82.5M79.5 429.1H79.5V429.8H79.6M82.5 430.2H79.5V430.6H82.5M79.5 429.4H78.7V430.4H79.5M78.7 429.9H78.4V430.9H82.5M82.5 431.1H78.3V431.4H82.5M82.5 432.1H80.0V432.4H82.5M82.5 431.8H79.8V432.2H80.0M79.8 432.0H78.9V432.6H82.5M78.3 431.3H78.1V432.3H78.9M78.4 430.4H77.1V431.8H78.1M82.5 432.9H77.6V433.2H82.5M77.1 431.1H76.2V433.1H77.6M82.5 433.6H76.0V433.9H82.5M76.2 432.1H75.8V433.7H76.0M82.5 434.1H79.6V434.4H82.5M75.8 432.9H75.6V434.3H79.6M82.5 434.8H76.7V435.1H82.5M75.6 433.6H75.3V434.9H76.7M76.4 427.0H73.9V434.2H75.3M82.5 435.9H78.6V436.2H82.5M82.5 436.6H80.5V436.9H82.5M80.5 436.7H78.8V437.1H82.5M78.8 436.9H78.4V437.4H82.5M78.6 436.1H78.0V437.2H78.4M82.5 435.6H77.7V436.6H78.0M82.5 435.4H77.1V436.1H77.7M82.5 437.8H79.4V438.1H82.5M79.4 437.9H78.1V438.4H82.5M77.1 435.7H76.0V438.1H78.1M82.5 438.6H79.2V438.9H82.5M82.5 439.2H79.2V439.6H82.5M79.2 439.4H78.5V439.9H82.5M78.5 439.6H77.4V440.1H82.5M79.2 438.8H76.5V439.9H77.4M82.5 440.8H79.9V441.1H82.5M82.5 440.4H79.2V440.9H79.9M76.5 439.3H76.3V440.7H79.2M82.5 441.4H78.0V441.6H82.5M78.0 441.5H76.6V441.9H82.5M82.5 442.6H78.8V442.9H82.5M82.5 443.1H80.4V443.4H82.5M78.8 442.7H78.6V443.3H80.4M82.5 443.8H79.1V444.1H82.5M79.1 443.9H78.4V444.4H82.5M78.6 443.0H78.0V444.1H78.4M82.5 442.2H76.7V443.6H78.0M76.6 441.7H76.3V442.9H76.7M76.3 440.0H74.3V442.3H76.3M76.0 436.9H73.1V441.2H74.3M82.5 445.2H80.2V445.6H82.5M82.5 444.9H78.3V445.4H80.2M82.5 444.6H76.9V445.2H78.3M76.9 444.9H76.8V445.9H82.5M82.5 446.1H79.6V446.4H82.5M82.5 446.8H79.2V447.1H82.5M82.5 447.6H80.5V447.9H82.5M82.5 448.2H80.5V448.6H82.5M80.5 447.8H79.2V448.4H80.5M82.5 447.4H79.0V448.1H79.2M79.2 446.9H78.6V447.7H79.0M79.6 446.3H77.5V447.3H78.6M82.5 449.1H78.3V449.4H82.5M82.5 449.8H78.2V450.1H82.5M82.5 450.6H78.8V450.9H82.5M82.5 451.2H80.2V451.6H82.5M80.2 451.4H79.8V451.9H82.5M79.8 451.6H79.3V452.1H82.5M78.8 450.8H78.6V451.9H79.3M82.5 450.4H78.0V451.3H78.6M78.2 449.9H78.0V450.8H78.0M82.5 452.4H79.0V452.8H82.5M78.0 450.4H78.0V452.6H79.0M78.3 449.3H77.8V451.5H78.0M82.5 448.9H75.9V450.4H77.8M77.5 446.8H74.8V449.6H75.9M76.8 445.4H74.3V448.2H74.8M73.1 439.0H73.0V446.8H74.3M82.5 453.4H79.0V453.6H82.5M82.5 453.1H78.7V453.5H79.0M78.7 453.3H77.5V453.9H82.5M77.5 453.6H76.0V454.2H82.5M82.5 454.9H79.3V455.1H82.5M79.3 455.0H78.6V455.4H82.5M82.5 454.6H76.1V455.2H78.6M82.5 455.8H77.8V456.1H82.5M82.5 456.4H78.5V456.6H82.5M77.8 455.9H76.6V456.5H78.5M76.1 454.9H75.9V456.2H76.6M82.5 457.6H78.0V457.9H82.5M82.5 457.2H75.7V457.7H78.0M82.5 456.9H74.6V457.5H75.7M75.9 455.5H74.1V457.2H74.6M76.0 453.9H73.1V456.4H74.1M73.0 442.9H72.9V455.2H73.1M73.9 430.6H72.0V449.0H72.9M72.0 446.6V439.8M82.5 458.1H80.5V458.4H82.5M80.5 458.3H80.2V458.8H82.5M80.2 458.5H77.8V459.1H82.5M82.5 459.4H81.4V459.6H82.5M81.4 459.5H79.2V459.9H82.5M77.8 458.8H77.0V459.7H79.2M82.5 460.6H79.2V460.9H82.5M82.5 461.4H78.8V461.8H82.5M82.5 461.1H78.3V461.6H78.8M79.2 460.7H77.1V461.4H78.3M82.5 460.2H76.3V461.0H77.1M76.3 460.6H75.8V462.1H82.5M82.5 463.2H80.3V463.6H82.5M82.5 462.9H80.2V463.4H80.3M82.5 462.6H79.8V463.2H80.2M82.5 462.4H79.2V462.9H79.8M75.8 461.3H75.7V462.6H79.2M77.0 459.3H75.7V462.0H75.7M75.7 460.6H75.1V463.9H82.5M82.5 464.1H78.0V464.4H82.5M82.5 464.8H79.5V465.1H82.5M79.5 464.9H78.5V465.4H82.5M82.5 466.2H80.5V466.6H82.5M80.5 466.4H80.3V466.9H82.5M82.5 467.1H79.3V467.4H82.5M80.3 466.6H79.1V467.3H79.3M82.5 467.8H79.4V468.1H82.5M79.4 467.9H78.8V468.4H82.5M79.1 467.0H78.5V468.1H78.8M82.5 465.9H78.4V467.5H78.5M78.4 466.7H78.3V468.6H82.5M82.5 465.6H77.8V467.7H78.3M82.5 469.2H79.3V469.6H82.5M79.3 469.4H78.9V469.9H82.5M82.5 468.9H78.3V469.6H78.9M77.8 466.7H77.3V469.3H78.3M82.5 470.8H79.9V471.1H82.5M82.5 470.4H79.8V470.9H79.9M82.5 470.1H78.7V470.7H79.8M78.7 470.4H77.8V471.4H82.5M77.8 470.9H77.2V471.6H82.5M77.3 468.0H76.4V471.3H77.2M78.5 465.1H76.3V469.6H76.4M78.0 464.3H76.0V467.4H76.3M82.5 471.9H78.9V472.2H82.5M76.0 465.8H75.5V472.1H78.9M82.5 472.6H79.0V472.9H82.5M82.5 473.1H79.3V473.4H82.5M79.0 472.7H78.8V473.3H79.3M78.8 473.0H77.3V473.8H82.5M82.5 474.6H80.4V474.9H82.5M82.5 474.4H79.2V474.8H80.4M82.5 474.1H78.4V474.6H79.2M82.5 475.2H79.0V475.6H82.5M82.5 476.1H79.7V476.4H82.5M82.5 475.9H79.4V476.3H79.7M79.4 476.1H79.1V476.8H82.5M79.0 475.4H78.7V476.4H79.1M78.4 474.3H78.1V475.9H78.7M78.1 475.1H77.5V477.1H82.5M82.5 477.4H78.4V477.6H82.5M82.5 477.9H78.7V478.2H82.5M82.5 478.6H80.3V478.9H82.5M78.7 478.1H78.6V478.7H80.3M78.4 477.5H77.8V478.4H78.6M82.5 479.1H77.2V479.4H82.5M77.8 478.0H76.5V479.3H77.2M77.5 476.1H76.3V478.6H76.5M77.3 473.4H76.0V477.4H76.3M75.5 469.0H75.0V475.4H76.0M82.5 479.8H79.4V480.1H82.5M82.5 480.4H79.8V480.6H82.5M79.4 479.9H78.2V480.5H79.8M82.5 480.9H78.6V481.2H82.5M78.2 480.2H78.0V481.1H78.6M82.5 481.6H78.7V481.9H82.5M82.5 482.1H79.2V482.4H82.5M82.5 483.1H79.1V483.4H82.5M82.5 482.8H78.9V483.2H79.1M78.9 483.0H78.3V483.6H82.5M82.5 484.2H80.4V484.6H82.5M82.5 483.9H80.3V484.4H80.4M82.5 485.1H80.8V485.4H82.5M80.8 485.3H80.6V485.8H82.5M80.6 485.5H79.6V486.1H82.5M82.5 484.9H78.5V485.8H79.6M80.3 484.2H78.1V485.3H78.5M82.5 486.4H78.0V486.6H82.5M78.1 484.7H77.8V486.5H78.0M78.3 483.3H77.7V485.6H77.8M79.2 482.3H77.2V484.5H77.7M78.7 481.7H77.1V483.4H77.2M78.0 480.6H77.0V482.5H77.1M77.0 481.6H76.2V486.9H82.5M76.2 484.3H75.7V487.2H82.5M75.0 472.2H74.8V485.8H75.7M75.1 462.2H73.1V479.0H74.8M82.5 487.6H80.3V487.9H82.5M80.3 487.7H78.5V488.1H82.5M82.5 488.8H80.3V489.1H82.5M82.5 488.4H80.1V488.9H80.3M80.1 488.7H78.0V489.4H82.5M78.5 487.9H76.0V489.0H78.0M76.0 488.5H75.9V489.6H82.5M82.5 489.9H80.6V490.2H82.5M80.6 490.1H80.1V490.6H82.5M82.5 490.9H79.2V491.1H82.5M80.1 490.3H78.6V491.0H79.2M82.5 491.4H78.2V491.8H82.5M78.6 490.7H77.8V491.6H78.2M75.9 489.1H75.4V491.1H77.8M82.5 492.1H78.5V492.4H82.5M82.5 492.6H78.3V492.9H82.5M78.5 492.2H78.1V492.8H78.3M82.5 493.2H80.0V493.6H82.5M82.5 494.1H80.3V494.4H82.5M82.5 493.9H79.6V494.3H80.3M80.0 493.4H77.6V494.1H79.6M78.1 492.5H75.9V493.7H77.6M82.5 494.8H77.3V495.1H82.5M75.9 493.1H75.6V494.9H77.3M82.5 495.4H77.9V495.6H82.5M82.5 495.9H78.1V496.2H82.5M82.5 496.6H79.1V496.9H82.5M78.1 496.1H77.2V496.7H79.1M77.9 495.5H77.0V496.4H77.2M75.6 494.0H74.9V496.0H77.0M82.5 497.1H79.7V497.4H82.5M74.9 495.0H73.8V497.3H79.7M82.5 497.8H78.7V498.1H82.5M82.5 498.4H78.1V498.6H82.5M78.1 498.5H77.5V498.9H82.5M78.7 497.9H76.5V498.7H77.5M82.5 499.6H79.8V499.9H82.5M82.5 499.2H78.1V499.7H79.8M76.5 498.3H74.6V499.5H78.1M73.8 496.1H73.8V498.9H74.6M75.4 490.1H73.7V497.5H73.8M73.1 470.6H71.0V493.8H73.7M71.0 468.5V482.2M82.5 500.2H79.0V500.5H82.5M82.5 500.8H81.4V501.1H82.5M79.0 500.3H78.3V500.9H81.4M78.3 500.6H77.7V501.4H82.5M82.5 501.7H81.1V502.0H82.5M81.1 501.8H79.6V502.3H82.5M82.5 502.6H80.6V502.9H82.5M80.6 502.7H79.9V503.2H82.5M79.9 502.9H79.8V503.5H82.5M79.8 503.2H78.5V503.8H82.5M79.6 502.0H78.0V503.5H78.5M77.7 501.0H77.4V502.8H78.0M82.5 504.1H79.4V504.4H82.5M79.4 504.2H79.3V504.7H82.5M82.5 505.3H79.5V505.6H82.5M82.5 505.0H78.5V505.4H79.5M79.3 504.4H77.8V505.2H78.5M77.4 501.9H77.4V504.8H77.8M82.5 505.9H80.8V506.2H82.5M82.5 506.8H80.0V507.1H82.5M82.5 506.5H79.9V506.9H80.0M80.8 506.0H79.2V506.7H79.9M82.5 507.4H79.3V507.7H82.5M79.2 506.3H79.1V507.5H79.3M77.4 503.3H76.9V506.9H79.1M82.5 508.3H78.8V508.6H82.5M82.5 508.0H78.3V508.4H78.8M82.5 509.2H81.1V509.5H82.5M81.1 509.3H79.2V509.8H82.5M82.5 510.1H80.1V510.4H82.5M82.5 510.7H79.9V511.0H82.5M80.1 510.2H78.9V510.8H79.9M82.5 511.6H81.2V511.9H82.5M82.5 511.3H81.0V511.7H81.2M81.0 511.5H80.1V512.2H82.5M80.1 511.8H79.1V512.5H82.5M78.9 510.5H78.8V512.1H79.1M79.2 509.5H78.2V511.3H78.8M82.5 508.9H77.6V510.4H78.2M82.5 513.1H80.3V513.4H82.5M82.5 512.8H79.7V513.2H80.3M82.5 513.7H79.3V514.0H82.5M79.7 513.0H77.8V513.8H79.3M77.6 509.6H76.9V513.4H77.8M78.3 508.2H76.0V511.5H76.9M82.5 514.6H81.2V514.9H82.5M82.5 515.5H80.8V515.8H82.5M82.5 515.2H80.5V515.6H80.8M81.2 514.7H80.3V515.4H80.5M80.3 515.1H80.3V516.1H82.5M80.3 515.6H80.2V516.4H82.5M82.5 516.7H80.1V517.0H82.5M80.2 516.0H79.8V516.8H80.1M82.5 514.3H79.5V516.4H79.8M79.5 515.3H78.8V517.3H82.5M82.5 517.6H79.2V517.9H82.5M82.5 518.2H81.2V518.5H82.5M81.2 518.3H81.0V518.8H82.5M81.0 518.5H80.4V519.1H82.5M79.2 517.7H79.1V518.8H80.4M82.5 519.4H80.9V519.7H82.5M80.9 519.5H79.9V520.0H82.5M79.9 519.7H79.0V520.3H82.5M79.1 518.3H79.0V520.0H79.0M78.8 516.3H78.8V519.1H79.0M76.0 509.9H75.6V517.7H78.8M82.5 520.9H80.1V521.2H82.5M82.5 520.6H79.0V521.0H80.1M82.5 521.8H79.8V522.1H82.5M82.5 521.5H79.1V521.9H79.8M79.0 520.8H77.5V521.7H79.1M82.5 522.4H80.5V522.7H82.5M82.5 523.0H79.3V523.3H82.5M80.5 522.5H79.1V523.1H79.3M82.5 523.9H80.8V524.2H82.5M82.5 523.6H80.7V524.0H80.8M80.7 523.8H79.9V524.5H82.5M79.9 524.1H79.8V524.8H82.5M82.5 525.1H79.9V525.4H82.5M79.8 524.5H79.4V525.2H79.9M79.4 524.8H78.8V525.7H82.5M82.5 526.3H80.6V526.6H82.5M82.5 526.0H79.1V526.4H80.6M78.8 525.3H78.3V526.2H79.1M79.1 522.8H77.9V525.7H78.3M77.5 521.2H77.4V524.3H77.9M82.5 526.9H81.0V527.2H82.5M81.0 527.0H79.7V527.5H82.5M82.5 527.8H80.2V528.1H82.5M79.7 527.3H78.0V527.9H80.2M77.4 522.8H77.4V527.6H78.0M77.4 525.2H77.1V528.4H82.5M82.5 529.0H78.8V529.3H82.5M82.5 529.6H80.1V529.9H82.5M80.1 529.7H78.9V530.2H82.5M82.5 530.5H79.3V530.8H82.5M82.5 531.4H81.2V531.7H82.5M82.5 531.1H79.7V531.5H81.2M79.3 530.6H79.2V531.3H79.7M82.5 532.0H79.0V532.3H82.5M79.2 531.0H78.9V532.1H79.0M78.9 530.0H78.8V531.6H78.9M78.8 529.1H77.8V530.8H78.8M82.5 528.7H76.3V529.9H77.8M77.1 526.8H75.3V529.3H76.3M75.6 513.8H75.0V528.0H75.3M82.5 532.9H79.4V533.2H82.5M82.5 532.6H78.3V533.0H79.4M82.5 534.4H80.9V534.7H82.5M82.5 534.1H79.9V534.5H80.9M82.5 533.8H79.5V534.3H79.9M79.5 534.1H79.3V535.0H82.5M82.5 533.5H78.5V534.5H79.3M78.3 532.8H78.0V534.0H78.5M82.5 535.3H81.2V535.6H82.5M81.2 535.4H80.5V535.9H82.5M82.5 536.2H79.2V536.5H82.5M82.5 536.8H81.2V537.1H82.5M81.2 536.9H80.2V537.4H82.5M79.2 536.3H78.8V537.2H80.2M78.8 536.8H78.7V537.7H82.5M82.5 538.3H80.4V538.6H82.5M82.5 538.0H79.0V538.4H80.4M82.5 538.9H80.7V539.2H82.5M82.5 539.5H80.7V539.8H82.5M80.7 539.0H80.5V539.6H80.7M79.0 538.2H78.6V539.3H80.5M78.7 537.2H78.5V538.8H78.6M80.5 535.7H78.2V538.0H78.5M82.5 540.1H80.0V540.4H82.5M82.5 540.7H81.4V541.0H82.5M80.0 540.2H79.4V540.8H81.4M82.5 541.6H81.1V541.9H82.5M81.1 541.7H81.0V542.2H82.5M82.5 541.3H78.8V542.0H81.0M79.4 540.5H77.5V541.6H78.8M78.2 536.8H76.7V541.1H77.5M78.0 533.4H76.2V539.0H76.7M82.5 542.5H80.5V542.8H82.5M76.2 536.2H76.1V542.6H80.5M82.5 543.4H81.5V543.7H82.5M82.5 543.1H80.0V543.5H81.5M82.5 544.0H78.7V544.3H82.5M82.5 544.6H80.1V544.9H82.5M80.1 544.8H79.7V545.2H82.5M78.7 544.2H78.4V545.0H79.7M82.5 545.8H81.2V546.1H82.5M82.5 545.5H80.4V546.0H81.2M82.5 546.4H80.2V546.7H82.5M80.4 545.7H77.9V546.6H80.2M78.4 544.6H77.8V546.1H77.9M80.0 543.3H77.5V545.4H77.8M82.5 547.0H80.1V547.3H82.5M80.1 547.2H80.0V547.6H82.5M82.5 547.9H81.4V548.2H82.5M80.0 547.4H79.8V548.1H81.4M82.5 548.5H80.2V548.8H82.5M80.2 548.7H79.7V549.1H82.5M79.8 547.7H77.4V548.9H79.7M77.5 544.3H77.1V548.3H77.4M82.5 549.4H79.3V549.7H82.5M82.5 550.0H79.0V550.3H82.5M82.5 550.6H79.1V550.9H82.5M79.0 550.2H78.2V550.8H79.1M79.3 549.6H78.0V550.5H78.2M82.5 551.2H79.7V551.5H82.5M82.5 551.8H80.3V552.1H82.5M79.7 551.4H78.8V552.0H80.3M78.0 550.0H77.4V551.7H78.8M82.5 552.4H81.4V552.7H82.5M81.4 552.6H79.2V553.0H82.5M82.5 553.6H79.5V553.9H82.5M82.5 553.3H79.0V553.8H79.5M79.2 552.8H78.9V553.5H79.0M77.4 550.8H77.3V553.2H78.9M77.3 552.0H76.9V554.2H82.5M77.1 546.3H76.6V553.1H76.9M76.1 539.4H75.6V549.7H76.6M75.0 520.9H74.9V544.6H75.6M82.5 554.8H81.2V555.1H82.5M81.2 555.0H80.6V555.4H82.5M80.6 555.2H80.4V555.7H82.5M82.5 554.5H80.2V555.5H80.4M80.2 555.0H79.6V556.0H82.5M79.6 555.5H79.5V556.3H82.5M82.5 556.6H80.0V556.9H82.5M80.0 556.8H79.5V557.2H82.5M82.5 557.5H80.5V557.8H82.5M80.5 557.7H79.9V558.1H82.5M79.5 557.0H79.3V557.9H79.9M79.5 555.9H77.6V557.4H79.3M74.9 532.7H74.6V556.7H77.6M76.9 505.1H73.2V544.7H74.6M82.5 559.0H81.4V559.3H82.5M82.5 558.7H80.5V559.2H81.4M82.5 558.4H79.6V558.9H80.5M82.5 559.9H80.2V560.2H82.5M82.5 559.6H79.9V560.1H80.2M79.6 558.7H77.7V559.8H79.9M82.5 560.8H81.1V561.1H82.5M81.1 561.0H79.9V561.4H82.5M82.5 562.0H80.7V562.3H82.5M82.5 561.7H78.1V562.2H80.7M79.9 561.2H77.7V561.9H78.1M82.5 560.5H76.7V561.6H77.7M76.7 561.0H75.7V562.6H82.5M82.5 563.2H81.1V563.5H82.5M81.1 563.4H80.9V563.8H82.5M82.5 562.9H80.7V563.6H80.9M80.7 563.3H78.4V564.1H82.5M82.5 564.7H80.2V565.0H82.5M80.2 564.9H79.6V565.3H82.5M82.5 564.4H79.2V565.1H79.6M82.5 565.9H81.1V566.2H82.5M82.5 565.6H80.7V566.1H81.1M80.7 565.8H79.6V566.5H82.5M79.2 564.8H78.6V566.2H79.6M78.4 563.7H77.6V565.5H78.6M82.5 566.8H79.2V567.1H82.5M82.5 567.4H80.3V567.7H82.5M79.2 567.0H79.2V567.6H80.3M82.5 568.0H81.1V568.3H82.5M82.5 568.6H80.2V568.9H82.5M82.5 569.2H80.5V569.5H82.5M80.2 568.8H79.7V569.4H80.5M81.1 568.2H79.6V569.1H79.7M82.5 570.1H80.2V570.4H82.5M82.5 569.8H79.6V570.3H80.2M82.5 571.3H80.2V571.6H82.5M82.5 571.0H80.1V571.5H80.2M82.5 570.7H79.6V571.3H80.1M79.6 570.1H78.7V571.0H79.6M79.6 568.6H78.3V570.5H78.7M82.5 571.9H80.5V572.2H82.5M82.5 572.5H79.8V572.8H82.5M80.5 572.1H79.8V572.7H79.8M82.5 573.1H79.7V573.4H82.5M79.8 572.4H79.0V573.3H79.7M78.3 569.6H78.2V572.8H79.0M79.2 567.3H77.9V571.2H78.2M77.6 564.6H77.2V569.2H77.9M75.7 561.8H75.5V566.9H77.2M82.5 573.7H81.1V574.0H82.5M82.5 574.3H79.5V574.6H82.5M81.1 573.9H78.6V574.5H79.5M82.5 574.9H81.1V575.2H82.5M78.6 574.2H77.5V575.1H81.1M82.5 575.5H80.9V575.8H82.5M82.5 577.0H80.4V577.3H82.5M82.5 576.7H80.3V577.2H80.4M82.5 576.4H79.5V577.0H80.3M82.5 577.9H81.3V578.2H82.5M81.3 578.1H81.2V578.5H82.5M82.5 577.6H80.4V578.3H81.2M79.5 576.7H79.4V578.0H80.4M82.5 576.1H78.7V577.3H79.4M80.9 575.7H78.4V576.7H78.7M78.4 576.2H78.2V578.8H82.5M82.5 579.4H79.4V579.7H82.5M79.4 579.6H78.9V580.0H82.5M82.5 580.6H80.4V580.9H82.5M82.5 581.2H80.7V581.5H82.5M80.4 580.8H80.3V581.4H80.7M82.5 581.8H80.6V582.1H82.5M80.6 582.0H79.7V582.4H82.5M80.3 581.1H79.3V582.2H79.7M82.5 580.3H79.1V581.7H79.3M78.9 579.8H78.7V581.0H79.1M82.5 579.1H78.7V580.4H78.7M78.2 577.5H78.1V579.8H78.7M77.5 574.6H77.3V578.6H78.1M82.5 582.7H79.9V583.0H82.5M79.9 582.9H77.8V583.3H82.5M77.3 576.6H77.0V583.1H77.8M82.5 583.6H81.2V583.9H82.5M81.2 583.8H80.9V584.2H82.5M82.5 584.5H80.3V584.8H82.5M80.9 584.0H78.8V584.7H80.3M78.8 584.4H78.6V585.1H82.5M82.5 585.4H80.1V585.7H82.5M78.6 584.8H78.3V585.6H80.1M78.3 585.2H78.1V586.0H82.5M77.0 579.9H76.4V585.6H78.1M82.5 586.6H80.4V586.9H82.5M82.5 587.2H80.1V587.5H82.5M80.4 586.8H79.6V587.4H80.1M82.5 586.3H77.8V587.1H79.6M77.8 586.7H76.3V587.8H82.5M76.4 582.7H75.8V587.3H76.3M75.5 564.4H74.6V585.0H75.8M77.7 559.3H73.4V574.7H74.6M73.2 524.9H72.0V567.0H73.4M72.0 570.0V545.9M82.5 588.5H80.2V588.8H82.5M82.5 588.1H79.6V588.6H80.2M79.6 588.4H79.3V589.0H82.5M82.5 589.4H79.8V589.6H82.5M82.5 590.0H79.3V590.2H82.5M79.8 589.5H79.2V590.1H79.3M79.3 588.7H78.5V589.8H79.2M78.5 589.3H78.1V590.5H82.5M82.5 591.1H79.9V591.5H82.5M82.5 590.9H78.9V591.3H79.9M82.5 591.8H80.4V592.0H82.5M78.9 591.1H78.7V591.9H80.4M78.1 589.9H77.6V591.5H78.7M82.5 593.0H81.4V593.2H82.5M82.5 592.6H78.9V593.1H81.4M82.5 592.4H78.8V592.9H78.9M77.6 590.7H77.3V592.6H78.8M82.5 594.1H79.1V594.5H82.5M79.1 594.3H78.2V594.8H82.5M82.5 593.9H76.8V594.5H78.2M82.5 593.5H76.4V594.2H76.8M77.3 591.7H73.2V593.9H76.4M82.5 595.0H80.1V595.4H82.5M82.5 596.0H79.1V596.2H82.5M82.5 596.5H80.4V596.9H82.5M79.1 596.1H78.7V596.7H80.4M82.5 595.6H78.3V596.4H78.7M80.1 595.2H78.0V596.0H78.3M73.2 592.8H70.9V595.6H78.0M70.9 593.2V594.2M82.5 597.5H80.5V597.8H82.5M82.5 597.2H77.8V597.6H80.5M82.5 598.7H81.1V599.0H82.5M82.5 598.4H80.1V598.8H81.1M80.1 598.6H78.8V599.3H82.5M82.5 599.6H80.2V599.9H82.5M78.8 598.9H78.0V599.7H80.2M82.5 598.1H77.4V599.3H78.0M82.5 600.8H80.6V601.1H82.5M82.5 600.5H79.6V600.9H80.6M82.5 601.4H79.2V601.7H82.5M79.6 600.7H79.1V601.5H79.2M82.5 600.2H78.5V601.1H79.1M78.5 600.6H77.7V602.0H82.5M82.5 602.3H78.9V602.6H82.5M78.9 602.4H78.1V602.9H82.5M77.7 601.3H76.8V602.6H78.1M82.5 603.5H79.3V603.8H82.5M82.5 603.2H77.8V603.6H79.3M82.5 604.1H79.7V604.4H82.5M82.5 605.0H80.3V605.3H82.5M82.5 604.7H78.8V605.1H80.3M79.7 604.2H78.1V604.9H78.8M82.5 605.6H78.8V605.9H82.5M78.1 604.6H77.8V605.7H78.8M77.8 603.4H77.8V605.1H77.8M82.5 606.2H80.5V606.5H82.5M77.8 604.3H77.5V606.3H80.5M77.5 605.3H76.6V606.8H82.5M82.5 607.1H79.4V607.4H82.5M79.4 607.2H79.1V607.7H82.5M82.5 608.0H79.0V608.3H82.5M79.1 607.5H78.8V608.1H79.0M82.5 608.9H80.4V609.2H82.5M82.5 608.6H79.9V609.0H80.4M79.9 608.8H79.3V609.5H82.5M78.8 607.8H77.3V609.2H79.3M76.6 606.0H76.5V608.5H77.3M76.8 602.0H75.7V607.3H76.5M77.4 598.7H74.9V604.6H75.7M77.8 597.4H74.4V601.7H74.9M82.5 610.1H80.2V610.4H82.5M80.2 610.2H80.2V610.7H82.5M82.5 609.8H79.5V610.5H80.2M79.5 610.1H78.7V611.0H82.5M82.5 611.3H80.0V611.6H82.5M80.0 611.5H78.7V611.9H82.5M78.7 611.7H78.6V612.2H82.5M82.5 612.5H78.7V612.8H82.5M78.6 611.9H78.1V612.7H78.7M82.5 613.4H79.8V613.7H82.5M82.5 613.1H77.7V613.6H79.8M78.1 612.3H76.8V613.3H77.7M78.7 610.6H76.5V612.8H76.8M74.4 599.5H74.1V611.7H76.5M82.5 614.0H80.6V614.3H82.5M80.6 614.2H80.6V614.6H82.5M82.5 615.2H79.4V615.5H82.5M82.5 614.9H78.7V615.4H79.4M78.7 615.1H78.6V615.8H82.5M82.5 616.7H80.3V617.0H82.5M80.3 616.9H80.1V617.3H82.5M80.1 617.1H80.0V617.6H82.5M82.5 616.4H79.9V617.4H80.0M82.5 616.1H79.6V616.9H79.9M78.6 615.5H77.7V616.5H79.6M80.6 614.4H76.9V616.0H77.7M82.5 617.9H78.5V618.2H82.5M82.5 618.5H79.8V618.8H82.5M78.5 618.1H78.0V618.7H79.8M82.5 619.1H80.8V619.4H82.5M80.8 619.3H78.2V619.7H82.5M82.5 620.3H80.3V620.6H82.5M82.5 620.0H79.8V620.5H80.3M82.5 621.2H80.2V621.5H82.5M82.5 620.9H80.0V621.4H80.2M82.5 621.8H80.4V622.1H82.5M80.4 622.0H79.2V622.4H82.5M80.0 621.2H79.0V622.2H79.2M79.8 620.3H78.1V621.7H79.0M78.2 619.5H77.7V621.0H78.1M78.0 618.4H76.9V620.2H77.7M76.9 615.2H76.6V619.3H76.9M82.5 622.7H79.6V623.0H82.5M82.5 623.3H80.3V623.6H82.5M82.5 623.9H79.4V624.2H82.5M79.4 624.1H79.3V624.5H82.5M80.3 623.5H78.9V624.3H79.3M78.9 623.9H77.6V624.8H82.5M79.6 622.9H77.2V624.4H77.6M76.6 617.2H73.8V623.6H77.2M74.1 605.6H72.0V620.4H73.8M72.0 600.9V613.0M82.5 625.5H79.5V625.8H82.5M82.5 626.1H78.8V626.4H82.5M82.5 627.0H80.2V627.3H82.5M82.5 626.7H80.0V627.1H80.2M82.5 627.6H80.3V627.9H82.5M80.0 626.9H79.6V627.7H80.3M82.5 628.2H80.5V628.5H82.5M79.6 627.3H79.4V628.3H80.5M79.4 627.8H79.4V628.8H82.5M79.4 628.3H79.1V629.1H82.5M78.8 626.2H78.1V628.7H79.1M79.5 625.6H76.9V627.4H78.1M82.5 630.0H80.0V630.3H82.5M82.5 629.7H78.6V630.1H80.0M78.6 629.9H78.4V630.6H82.5M82.5 631.5H81.1V631.8H82.5M82.5 631.2H80.4V631.6H81.1M82.5 630.9H79.6V631.4H80.4M79.6 631.1H79.4V632.1H82.5M78.4 630.2H78.0V631.6H79.4M82.5 629.4H75.7V630.9H78.0M76.9 626.5H75.4V630.1H75.7M82.5 632.4H79.6V632.7H82.5M82.5 633.0H78.8V633.3H82.5M79.6 632.5H78.8V633.1H78.8M78.8 632.8H78.6V633.6H82.5M82.5 633.9H81.2V634.2H82.5M81.2 634.0H79.6V634.5H82.5M82.5 634.8H79.5V635.1H82.5M79.6 634.2H78.8V634.9H79.5M78.6 633.2H78.1V634.6H78.8M82.5 635.4H79.8V635.7H82.5M79.8 635.5H77.7V636.0H82.5M78.1 633.9H77.1V635.7H77.7M82.5 636.3H79.7V636.6H82.5M82.5 636.9H79.7V637.2H82.5M79.7 636.4H79.3V637.0H79.7M82.5 637.5H81.3V637.8H82.5M81.3 637.6H80.9V638.1H82.5M80.9 637.9H79.7V638.4H82.5M79.3 636.7H78.0V638.1H79.7M82.5 639.0H80.3V639.3H82.5M82.5 638.7H78.4V639.1H80.3M78.0 637.4H77.8V638.9H78.4M82.5 639.9H80.1V640.2H82.5M82.5 639.6H79.2V640.0H80.1M79.2 639.8H78.5V640.5H82.5M82.5 641.1H80.9V641.4H82.5M80.9 641.2H80.0V641.7H82.5M82.5 640.8H79.4V641.5H80.0M79.4 641.1H79.2V642.0H82.5M82.5 642.3H80.5V642.6H82.5M82.5 642.9H80.6V643.2H82.5M82.5 643.5H80.8V643.8H82.5M82.5 644.1H80.9V644.4H82.5M82.5 645.0H81.2V645.3H82.5M82.5 644.7H80.9V645.1H81.2M80.9 644.2H80.5V644.9H80.9M80.8 643.6H79.9V644.6H80.5M80.6 643.0H79.2V644.1H79.9M80.5 642.4H78.9V643.6H79.2M79.2 641.6H77.7V643.0H78.9M82.5 646.2H79.8V646.5H82.5M82.5 645.9H78.6V646.3H79.8M82.5 645.6H77.1V646.1H78.6M77.7 642.3H77.0V645.9H77.1M78.5 640.1H76.8V644.1H77.0M82.5 646.8H79.7V647.1H82.5M79.7 646.9H78.6V647.4H82.5M82.5 647.7H79.0V648.0H82.5M78.6 647.2H77.2V647.8H79.0M76.8 642.1H76.3V647.5H77.2M82.5 648.6H79.5V648.9H82.5M82.5 648.3H79.5V648.8H79.5M82.5 649.2H80.6V649.5H82.5M80.6 649.4H80.5V649.8H82.5M79.5 648.5H79.1V649.6H80.5M82.5 650.1H81.0V650.4H82.5M79.1 649.1H78.0V650.3H81.0M82.5 650.7H78.9V651.0H82.5M78.0 649.7H77.2V650.9H78.9M82.5 651.6H78.3V651.9H82.5M82.5 651.3H78.0V651.8H78.3M77.2 650.3H77.0V651.5H78.0M76.3 644.8H76.3V650.9H77.0M77.8 638.2H76.0V647.9H76.3M77.1 634.8H75.5V643.0H76.0M82.5 652.5H79.4V652.8H82.5M82.5 652.2H79.4V652.7H79.4M82.5 653.1H80.1V653.4H82.5M79.4 652.4H77.2V653.3H80.1M82.5 654.6H81.2V654.9H82.5M82.5 654.3H80.7V654.8H81.2M82.5 654.0H79.9V654.5H80.7M82.5 653.7H78.1V654.3H79.9M77.2 652.8H77.1V654.0H78.1M75.5 638.9H75.5V653.4H77.1M75.4 628.3H75.0V646.2H75.5M82.5 655.2H80.9V655.5H82.5M80.9 655.4H80.6V655.8H82.5M82.5 657.3H80.4V657.6H82.5M80.4 657.5H80.2V657.9H82.5M82.5 657.0H79.9V657.7H80.2M82.5 656.7H79.2V657.4H79.9M82.5 656.4H79.0V657.0H79.2M82.5 656.1H78.5V656.7H79.0M78.5 656.4H78.3V658.2H82.5M80.6 655.6H77.8V657.3H78.3M77.8 656.5H77.3V658.5H82.5M82.5 659.1H81.3V659.4H82.5M82.5 658.8H79.4V659.3H81.3M82.5 660.0H81.6V660.3H82.5M82.5 659.7H79.5V660.2H81.6M79.4 659.0H78.5V659.9H79.5M77.3 657.5H77.1V659.5H78.5M82.5 660.9H79.4V661.2H82.5M82.5 661.5H79.1V661.8H82.5M79.4 661.1H79.0V661.7H79.1M82.5 660.6H79.0V661.4H79.0M82.5 662.4H79.3V662.7H82.5M82.5 662.1H79.1V662.6H79.3M79.0 661.0H79.0V662.4H79.1M82.5 663.0H78.8V663.3H82.5M79.0 661.7H78.4V663.2H78.8M77.1 658.5H76.6V662.4H78.4M75.0 637.2H75.0V660.5H76.6M82.5 625.2H74.2V648.9H75.0M82.5 664.2H80.1V664.5H82.5M82.5 663.9H80.0V664.4H80.1M82.5 663.6H79.1V664.2H80.0M82.5 664.8H79.1V665.1H82.5M82.5 665.4H79.6V665.7H82.5M79.6 665.6H79.5V666.0H82.5M79.1 665.0H78.9V665.8H79.5M79.1 663.9H78.7V665.4H78.9M78.7 664.6H78.0V666.3H82.5M82.5 667.5H80.6V667.8H82.5M82.5 667.2H80.6V667.7H80.6M82.5 666.9H79.4V667.5H80.6M82.5 668.1H79.6V668.4H82.5M82.5 668.7H80.6V669.0H82.5M82.5 669.3H81.2V669.6H82.5M81.2 669.5H80.6V669.9H82.5M80.6 669.7H80.3V670.2H82.5M80.6 668.9H79.5V670.0H80.3M79.6 668.3H79.4V669.4H79.5M79.4 667.2H79.2V668.9H79.4M82.5 666.6H78.7V668.0H79.2M82.5 670.8H80.4V671.1H82.5M82.5 670.5H80.1V671.0H80.4M82.5 671.4H79.5V671.7H82.5M80.1 670.8H78.9V671.6H79.5M78.7 667.3H78.4V671.2H78.9M82.5 672.0H78.9V672.3H82.5M78.4 669.3H77.7V672.2H78.9M78.0 665.5H76.5V670.7H77.7M74.2 637.0H73.0V668.1H76.5M73.0 643.5V652.6" stroke="#000" stroke-width="1.15" fill="none"/>
<path d="M24.2 434.3 L2.0 434.3 L2.0 165.4 L34.3 165.4 M60 92.8 L34.3 92.8 L34.3 236 L44.5 236 M54.1 135.4 L44.5 135.4 L44.5 338.8 L49.1 338.8 M60.5 100.6 L54.1 100.6 L54.1 169.4 L57.7 169.4 M71 126.1 L57.7 126.1 L57.7 212 L61 212 M67.6 144.6 L61 144.6 L61 279 L64 279 M73 258 L64 258 L64 299.8 L67.6 299.8 M74 270.8 L67.6 270.8 L67.6 327.5 L72 327.5 M60.5 334.6 L49.1 334.6 L49.1 341.7 L58.4 341.7 M47.7 353.5 L24.2 353.5 L24.2 514.6 L44.5 514.6 M57 347.3 L47.7 347.3 L47.7 360.1 L54.8 360.1 M60 355.9 L54.8 355.9 L54.8 365.8 L58 365.8 M51.3 408.3 L44.5 408.3 L44.5 620.5 L51.3 620.5 M72.5 384.9 L51.3 384.9 L51.3 431.7 L55.2 431.7 M65.5 392.7 L55.2 392.7 L55.2 470.7 L60.5 470.7 M67.6 421.8 L60.5 421.8 L60.5 519.6 L66.2 519.6 M72 402.6 L67.6 402.6 L67.6 446.6 L72 446.6 M71 468.5 L66.2 468.5 L66.2 570 L72 570 M59.8 593.2 L51.3 593.2 L51.3 647.7 L59.8 647.7 M70.9 593.2 L59.8 593.2 M65.8 622.2 L59.8 622.2 L59.8 673.2 L82.5 673.2 M72 600.9 L65.8 600.9 L65.8 643.5 L72 643.5" stroke="#2a2a2a" stroke-width="1.5" fill="none"/>
<!-- top dendrogram -->
<path d="M146 92.5V46.6H270.9V92.5 M208.45 46.6V2.6H459.9V35 M397.4 92.5V35H522.6V92.5" stroke="#333" stroke-width="1.5" fill="none"/>
<!-- brackets -->
<g stroke="#1e1e1e" stroke-width="1.9" fill="none">
<path d="M587 94.75H600a3 3 0 0 1 3 3V322.6a3 3 0 0 1 -3 3H587"/>
<path d="M587 325.6H600a3 3 0 0 1 3 3V344.8a3 3 0 0 1 -3 3H587"/>
<path d="M587 347.8H600a3 3 0 0 1 3 3V579.1a3 3 0 0 1 -3 3H587"/>
<path d="M587 598.8H600a3 3 0 0 1 3 3V666.3a3 3 0 0 1 -3 3H587"/>
</g>
<text class="t" x="611" y="229">I</text>
<text class="t" x="607" y="342.5">II</text>
<text class="t" x="607.5" y="455">III</text>
<text class="t" x="609.5" y="636">IV</text>
<!-- colorbar -->
<rect x="654.3" y="89.8" width="14.9" height="258.2" fill="url(#cb)"/>
<text class="s" x="681.8" y="124">10</text>
<text class="s" x="681" y="176.8">5</text>
<text class="s" x="681" y="231">0</text>
<text class="s" x="680.8" y="284">-5</text>
<text class="s" x="681" y="338.6">-10</text>
<!-- column labels -->
<text class="t" x="124" y="699.5">S-3 dpi</text>
<text class="t" x="241" y="699.5">S-7 dpi</text>
<text class="t" x="366.5" y="699.5">R-3 dpi</text>
<text class="t" x="501" y="699.5">R-7 dpi</text>
</svg>
</body></html>
